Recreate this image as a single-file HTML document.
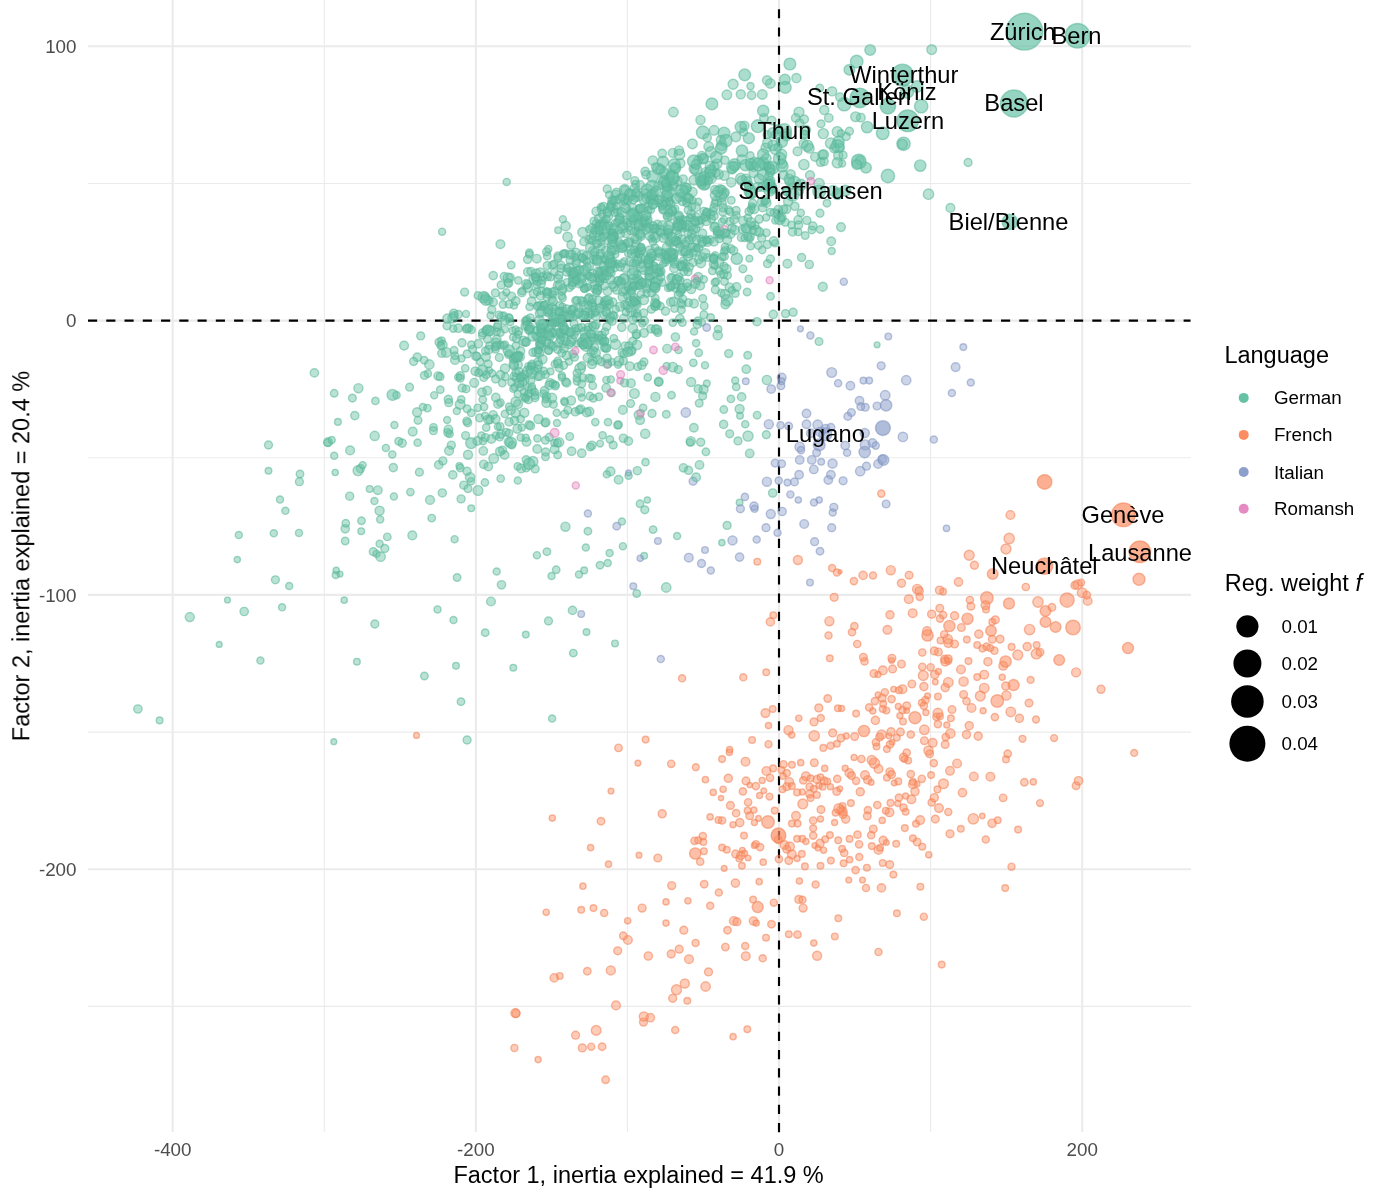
<!DOCTYPE html>
<html lang="en"><head><meta charset="utf-8"><title>Factor map</title>
<style>html,body{margin:0;padding:0;background:#fff}svg{display:block}text{font-family:"Liberation Sans",Arial,Helvetica,sans-serif}#txt{opacity:.999}.tk{font-size:18.8px;fill:#4D4D4D}.ti{font-size:23.5px;fill:#000}.lb{font-size:23.7px;fill:#000;text-anchor:middle}.ll{font-size:18.8px;fill:#000}.g,.f,.i,.r{fill-opacity:.45}#pts .m{fill-opacity:.56}#pts .b{fill-opacity:.7}.g{fill:#66C2A5;stroke:#5AB698}.f{fill:#FC8D62;stroke:#F08156}.i{fill:#8DA0CB;stroke:#8093C0}.r{fill:#E78AC3;stroke:#DA7DB6}#pts circle{stroke-opacity:.55;stroke-width:1.4}</style></head><body>
<svg width="1386" height="1200" viewBox="0 0 1386 1200">
<rect width="1386" height="1200" fill="#fff"/>
<g stroke="#EBEBEB" stroke-width="1.1" fill="none">
<line x1="324.3" y1="-21" x2="324.3" y2="1132"/>
<line x1="627.4" y1="-21" x2="627.4" y2="1132"/>
<line x1="930.6" y1="-21" x2="930.6" y2="1132"/>
<line x1="88" y1="183.5" x2="1191" y2="183.5"/>
<line x1="88" y1="457.8" x2="1191" y2="457.8"/>
<line x1="88" y1="732.1" x2="1191" y2="732.1"/>
<line x1="88" y1="1006.4" x2="1191" y2="1006.4"/>
</g>
<g stroke="#EBEBEB" stroke-width="2.1" fill="none">
<line x1="172.7" y1="-21" x2="172.7" y2="1132"/>
<line x1="475.9" y1="-21" x2="475.9" y2="1132"/>
<line x1="779.0" y1="-21" x2="779.0" y2="1132"/>
<line x1="1082.2" y1="-21" x2="1082.2" y2="1132"/>
<line x1="88" y1="46.3" x2="1191" y2="46.3"/>
<line x1="88" y1="320.6" x2="1191" y2="320.6"/>
<line x1="88" y1="594.9" x2="1191" y2="594.9"/>
<line x1="88" y1="869.2" x2="1191" y2="869.2"/>
</g>
<line x1="88" y1="320.6" x2="1190.5" y2="320.6" stroke="#000" stroke-width="2.15" stroke-dasharray="9.13 9.13"/>
<line x1="779.0" y1="1132.2" x2="779.0" y2="-31" stroke="#000" stroke-width="2.15" stroke-dasharray="9.13 9.13"/>
<g id="pts">
<circle class="g b" cx="1024.4" cy="31.7" r="18.40"/>
<circle class="g b" cx="1014.0" cy="103.5" r="13.57"/>
<circle class="g b" cx="1077.5" cy="35.8" r="12.32"/>
<circle class="f b" cx="1123.4" cy="514.8" r="11.86"/>
<circle class="g b" cx="907.7" cy="120.8" r="10.86"/>
<circle class="g b" cx="902.5" cy="75.0" r="10.86"/>
<circle class="f b" cx="1139.9" cy="551.8" r="10.76"/>
<circle class="g b" cx="859.8" cy="97.9" r="9.82"/>
<circle class="f b" cx="1044.6" cy="566.1" r="8.20"/>
<circle class="g" cx="698.3" cy="276.9" r="4.45"/>
<circle class="g" cx="576.4" cy="261.6" r="3.52"/>
<circle class="g" cx="644.0" cy="361.9" r="3.92"/>
<circle class="g" cx="667.8" cy="258.0" r="3.90"/>
<circle class="g" cx="424.2" cy="360.2" r="3.75"/>
<circle class="g" cx="717.4" cy="234.0" r="4.04"/>
<circle class="g" cx="637.7" cy="252.6" r="3.94"/>
<circle class="g" cx="717.0" cy="164.0" r="4.92"/>
<circle class="g" cx="669.1" cy="202.2" r="3.73"/>
<circle class="g" cx="655.4" cy="329.2" r="4.35"/>
<circle class="g" cx="476.9" cy="356.3" r="3.92"/>
<circle class="g" cx="605.5" cy="260.7" r="3.49"/>
<circle class="g" cx="831.2" cy="241.3" r="4.32"/>
<circle class="g" cx="521.7" cy="427.5" r="3.66"/>
<circle class="g m" cx="653.0" cy="199.2" r="5.74"/>
<circle class="g" cx="379.6" cy="543.8" r="3.55"/>
<circle class="g" cx="614.9" cy="223.0" r="3.56"/>
<circle class="g" cx="546.5" cy="274.6" r="3.97"/>
<circle class="f" cx="969.2" cy="725.7" r="4.08"/>
<circle class="f" cx="516.0" cy="1013.5" r="3.97"/>
<circle class="f" cx="743.3" cy="677.3" r="3.55"/>
<circle class="g" cx="483.7" cy="464.3" r="4.16"/>
<circle class="g" cx="589.1" cy="378.3" r="4.09"/>
<circle class="g" cx="622.9" cy="546.2" r="3.55"/>
<circle class="f" cx="746.0" cy="780.9" r="3.87"/>
<circle class="g" cx="691.7" cy="226.7" r="3.84"/>
<circle class="g" cx="677.1" cy="536.0" r="3.55"/>
<circle class="f" cx="836.9" cy="572.5" r="3.55"/>
<circle class="f" cx="797.5" cy="934.6" r="3.76"/>
<circle class="g" cx="646.8" cy="197.8" r="5.12"/>
<circle class="g" cx="694.0" cy="247.5" r="4.07"/>
<circle class="g" cx="547.6" cy="291.7" r="3.60"/>
<circle class="g" cx="606.3" cy="379.9" r="3.51"/>
<circle class="g" cx="583.2" cy="301.7" r="4.24"/>
<circle class="g" cx="655.0" cy="247.5" r="3.67"/>
<circle class="f" cx="950.0" cy="770.8" r="4.37"/>
<circle class="g" cx="758.4" cy="245.5" r="3.85"/>
<circle class="f" cx="813.8" cy="788.8" r="3.35"/>
<circle class="g" cx="516.5" cy="377.9" r="4.30"/>
<circle class="f" cx="871.2" cy="835.2" r="3.66"/>
<circle class="f" cx="778.9" cy="859.1" r="3.66"/>
<circle class="f" cx="749.7" cy="815.8" r="3.87"/>
<circle class="f" cx="902.5" cy="710.0" r="3.66"/>
<circle class="g" cx="607.2" cy="213.3" r="4.22"/>
<circle class="g" cx="705.5" cy="184.9" r="4.56"/>
<circle class="g" cx="613.1" cy="261.7" r="3.87"/>
<circle class="g" cx="527.0" cy="320.0" r="4.33"/>
<circle class="g" cx="839.8" cy="147.9" r="4.40"/>
<circle class="g m" cx="721.2" cy="196.3" r="5.77"/>
<circle class="g" cx="589.0" cy="229.2" r="3.55"/>
<circle class="f" cx="1029.0" cy="703.1" r="3.87"/>
<circle class="g" cx="590.1" cy="313.8" r="4.05"/>
<circle class="g" cx="521.1" cy="468.4" r="4.47"/>
<circle class="f" cx="842.6" cy="806.0" r="3.35"/>
<circle class="f" cx="740.8" cy="855.4" r="4.08"/>
<circle class="f" cx="987.9" cy="661.7" r="4.08"/>
<circle class="g" cx="672.1" cy="211.0" r="4.13"/>
<circle class="g" cx="497.4" cy="327.2" r="4.05"/>
<circle class="g" cx="678.5" cy="350.0" r="3.65"/>
<circle class="f" cx="1051.9" cy="607.4" r="3.83"/>
<circle class="g" cx="666.0" cy="256.1" r="4.18"/>
<circle class="f" cx="892.6" cy="668.9" r="3.87"/>
<circle class="g" cx="860.8" cy="117.7" r="4.37"/>
<circle class="g" cx="466.5" cy="329.1" r="4.05"/>
<circle class="g" cx="636.7" cy="304.6" r="4.42"/>
<circle class="g" cx="654.8" cy="287.9" r="5.15"/>
<circle class="g" cx="589.1" cy="266.3" r="4.38"/>
<circle class="g" cx="669.3" cy="177.7" r="4.64"/>
<circle class="g" cx="591.5" cy="378.5" r="3.80"/>
<circle class="g" cx="613.9" cy="239.7" r="3.72"/>
<circle class="g" cx="527.3" cy="325.2" r="4.55"/>
<circle class="g" cx="480.2" cy="361.7" r="3.76"/>
<circle class="i" cx="813.8" cy="469.4" r="4.25"/>
<circle class="g" cx="692.4" cy="192.0" r="4.74"/>
<circle class="g" cx="542.4" cy="276.8" r="4.07"/>
<circle class="i" cx="800.4" cy="328.8" r="2.92"/>
<circle class="g" cx="579.3" cy="410.0" r="4.03"/>
<circle class="g" cx="859.8" cy="160.4" r="4.37"/>
<circle class="f" cx="857.5" cy="834.7" r="3.66"/>
<circle class="g" cx="703.2" cy="181.1" r="4.84"/>
<circle class="g" cx="686.4" cy="197.4" r="4.43"/>
<circle class="f" cx="813.2" cy="835.6" r="3.66"/>
<circle class="g" cx="591.3" cy="314.6" r="3.51"/>
<circle class="f" cx="978.8" cy="634.1" r="4.08"/>
<circle class="i" cx="865.3" cy="444.9" r="4.98"/>
<circle class="g" cx="721.1" cy="235.1" r="3.94"/>
<circle class="g" cx="709.6" cy="172.7" r="5.29"/>
<circle class="g" cx="662.3" cy="206.4" r="3.87"/>
<circle class="g" cx="559.7" cy="323.4" r="3.65"/>
<circle class="g" cx="628.2" cy="198.7" r="4.22"/>
<circle class="g" cx="731.8" cy="169.8" r="4.18"/>
<circle class="g" cx="520.4" cy="387.2" r="3.69"/>
<circle class="g m" cx="866.0" cy="167.7" r="5.37"/>
<circle class="g" cx="553.1" cy="317.6" r="4.18"/>
<circle class="g" cx="731.3" cy="200.3" r="3.82"/>
<circle class="g" cx="669.1" cy="187.4" r="4.03"/>
<circle class="g" cx="620.2" cy="306.6" r="4.48"/>
<circle class="f" cx="774.7" cy="810.6" r="3.35"/>
<circle class="g" cx="709.9" cy="239.8" r="4.00"/>
<circle class="g" cx="628.4" cy="227.3" r="4.07"/>
<circle class="g m" cx="768.5" cy="185.3" r="6.12"/>
<circle class="f" cx="896.9" cy="913.3" r="3.34"/>
<circle class="r" cx="620.2" cy="380.8" r="3.34"/>
<circle class="g" cx="448.8" cy="402.7" r="3.95"/>
<circle class="g" cx="678.2" cy="221.0" r="4.30"/>
<circle class="g" cx="714.0" cy="207.4" r="4.05"/>
<circle class="g" cx="655.9" cy="228.4" r="4.59"/>
<circle class="f" cx="735.6" cy="853.9" r="3.87"/>
<circle class="g" cx="618.6" cy="479.8" r="4.29"/>
<circle class="f" cx="771.5" cy="924.2" r="3.76"/>
<circle class="g" cx="665.7" cy="196.3" r="5.05"/>
<circle class="g" cx="750.2" cy="165.9" r="4.30"/>
<circle class="g" cx="438.7" cy="464.9" r="4.20"/>
<circle class="g" cx="684.9" cy="189.4" r="4.30"/>
<circle class="f" cx="840.0" cy="571.8" r="1.99"/>
<circle class="g" cx="746.3" cy="369.2" r="4.19"/>
<circle class="g" cx="657.2" cy="304.3" r="3.86"/>
<circle class="g" cx="589.0" cy="297.5" r="3.97"/>
<circle class="f" cx="727.5" cy="930.2" r="3.76"/>
<circle class="g" cx="512.5" cy="330.5" r="3.54"/>
<circle class="g m" cx="838.5" cy="141.9" r="5.67"/>
<circle class="g" cx="703.7" cy="158.6" r="4.71"/>
<circle class="g" cx="504.9" cy="344.7" r="3.65"/>
<circle class="g" cx="374.7" cy="435.9" r="4.60"/>
<circle class="g" cx="529.4" cy="252.9" r="3.86"/>
<circle class="g" cx="654.4" cy="266.6" r="3.97"/>
<circle class="g" cx="546.4" cy="396.5" r="4.18"/>
<circle class="g" cx="513.8" cy="358.8" r="3.96"/>
<circle class="g" cx="219.2" cy="644.4" r="2.92"/>
<circle class="g" cx="506.2" cy="432.3" r="3.87"/>
<circle class="g" cx="762.7" cy="207.7" r="4.09"/>
<circle class="g" cx="533.7" cy="293.6" r="4.31"/>
<circle class="g" cx="564.3" cy="401.1" r="3.65"/>
<circle class="g" cx="561.1" cy="268.3" r="4.10"/>
<circle class="g" cx="624.3" cy="261.3" r="3.57"/>
<circle class="g" cx="650.9" cy="328.9" r="4.17"/>
<circle class="g" cx="638.8" cy="414.8" r="4.61"/>
<circle class="g" cx="328.1" cy="442.1" r="4.37"/>
<circle class="f" cx="797.9" cy="560.0" r="4.53"/>
<circle class="f" cx="816.9" cy="779.4" r="3.87"/>
<circle class="g" cx="636.6" cy="334.0" r="4.44"/>
<circle class="g" cx="592.8" cy="272.9" r="3.52"/>
<circle class="g" cx="591.1" cy="238.2" r="4.22"/>
<circle class="f" cx="905.6" cy="811.8" r="3.35"/>
<circle class="g" cx="404.1" cy="345.6" r="4.39"/>
<circle class="g" cx="600.0" cy="565.2" r="3.76"/>
<circle class="g m" cx="903.5" cy="143.8" r="6.69"/>
<circle class="i" cx="859.5" cy="400.8" r="4.25"/>
<circle class="f" cx="903.0" cy="721.5" r="3.35"/>
<circle class="g" cx="671.9" cy="254.2" r="3.94"/>
<circle class="f" cx="944.7" cy="659.3" r="4.08"/>
<circle class="g" cx="666.7" cy="366.1" r="3.62"/>
<circle class="i" cx="814.0" cy="502.5" r="3.55"/>
<circle class="g" cx="409.6" cy="387.2" r="3.92"/>
<circle class="g" cx="581.7" cy="453.2" r="4.22"/>
<circle class="f" cx="841.6" cy="708.4" r="3.03"/>
<circle class="f" cx="838.2" cy="840.3" r="3.35"/>
<circle class="f" cx="830.9" cy="860.6" r="3.35"/>
<circle class="g" cx="636.3" cy="335.3" r="3.55"/>
<circle class="f" cx="980.3" cy="696.0" r="4.95"/>
<circle class="g" cx="715.2" cy="255.2" r="3.57"/>
<circle class="f" cx="867.6" cy="779.8" r="4.08"/>
<circle class="g" cx="582.4" cy="257.6" r="3.95"/>
<circle class="g" cx="514.0" cy="376.4" r="3.86"/>
<circle class="g" cx="500.2" cy="344.8" r="3.73"/>
<circle class="g" cx="694.0" cy="303.6" r="4.35"/>
<circle class="g m" cx="622.4" cy="227.5" r="5.54"/>
<circle class="g" cx="823.3" cy="133.6" r="5.01"/>
<circle class="g" cx="624.2" cy="201.4" r="3.92"/>
<circle class="g" cx="718.1" cy="329.2" r="3.71"/>
<circle class="g" cx="552.3" cy="332.8" r="4.60"/>
<circle class="g" cx="582.4" cy="255.2" r="5.29"/>
<circle class="i" cx="877.0" cy="406.0" r="3.86"/>
<circle class="f m" cx="992.7" cy="574.0" r="5.34"/>
<circle class="g" cx="699.3" cy="223.7" r="4.35"/>
<circle class="g" cx="672.8" cy="322.7" r="3.66"/>
<circle class="g" cx="703.7" cy="279.4" r="3.67"/>
<circle class="g" cx="554.8" cy="322.3" r="4.40"/>
<circle class="r" cx="695.2" cy="278.8" r="3.76"/>
<circle class="f" cx="948.3" cy="643.1" r="4.37"/>
<circle class="g" cx="507.9" cy="282.7" r="3.87"/>
<circle class="g" cx="742.2" cy="229.4" r="3.97"/>
<circle class="g" cx="653.5" cy="266.1" r="4.26"/>
<circle class="g" cx="622.0" cy="352.6" r="3.90"/>
<circle class="f" cx="762.7" cy="958.3" r="3.55"/>
<circle class="g" cx="508.8" cy="317.6" r="3.98"/>
<circle class="g" cx="615.0" cy="250.0" r="4.32"/>
<circle class="f" cx="1030.6" cy="679.9" r="3.45"/>
<circle class="g" cx="501.2" cy="285.0" r="4.01"/>
<circle class="g" cx="633.3" cy="221.1" r="3.74"/>
<circle class="g" cx="433.5" cy="427.4" r="3.79"/>
<circle class="g" cx="705.9" cy="239.6" r="3.69"/>
<circle class="f" cx="816.9" cy="795.0" r="3.35"/>
<circle class="f" cx="582.3" cy="1047.9" r="3.97"/>
<circle class="f" cx="805.9" cy="776.2" r="4.37"/>
<circle class="g" cx="719.2" cy="271.2" r="3.75"/>
<circle class="g m" cx="740.8" cy="127.1" r="5.64"/>
<circle class="g" cx="628.1" cy="253.4" r="3.54"/>
<circle class="g" cx="591.9" cy="445.3" r="4.21"/>
<circle class="g" cx="589.5" cy="411.6" r="4.32"/>
<circle class="g" cx="636.8" cy="300.4" r="4.00"/>
<circle class="g" cx="441.8" cy="353.3" r="4.06"/>
<circle class="g" cx="681.0" cy="288.5" r="4.22"/>
<circle class="g" cx="535.0" cy="395.4" r="3.89"/>
<circle class="f" cx="866.0" cy="887.9" r="3.55"/>
<circle class="g" cx="670.2" cy="216.6" r="3.94"/>
<circle class="f" cx="754.4" cy="845.5" r="3.03"/>
<circle class="g" cx="721.8" cy="145.4" r="5.18"/>
<circle class="g" cx="540.0" cy="343.2" r="4.30"/>
<circle class="g" cx="665.4" cy="262.4" r="3.60"/>
<circle class="g" cx="699.5" cy="464.9" r="4.26"/>
<circle class="g m" cx="704.0" cy="184.6" r="5.56"/>
<circle class="g" cx="704.0" cy="211.5" r="4.13"/>
<circle class="g" cx="536.9" cy="555.2" r="3.55"/>
<circle class="g" cx="644.6" cy="221.5" r="4.76"/>
<circle class="g" cx="502.5" cy="450.1" r="4.00"/>
<circle class="g" cx="633.8" cy="297.8" r="4.17"/>
<circle class="f" cx="841.0" cy="810.2" r="4.37"/>
<circle class="g" cx="488.2" cy="419.6" r="4.45"/>
<circle class="g" cx="607.5" cy="291.2" r="4.30"/>
<circle class="g" cx="333.8" cy="741.7" r="2.92"/>
<circle class="g" cx="585.8" cy="547.5" r="3.55"/>
<circle class="f" cx="882.9" cy="670.4" r="4.37"/>
<circle class="g" cx="592.5" cy="305.9" r="4.16"/>
<circle class="g" cx="557.7" cy="349.6" r="3.92"/>
<circle class="f" cx="591.2" cy="1046.7" r="3.55"/>
<circle class="g" cx="658.6" cy="272.8" r="3.87"/>
<circle class="f" cx="514.4" cy="1047.9" r="3.55"/>
<circle class="g" cx="716.0" cy="173.1" r="3.89"/>
<circle class="f" cx="901.5" cy="664.0" r="3.87"/>
<circle class="g" cx="552.5" cy="307.3" r="3.83"/>
<circle class="g" cx="716.8" cy="230.3" r="3.76"/>
<circle class="f" cx="786.7" cy="849.2" r="3.87"/>
<circle class="g" cx="529.8" cy="330.0" r="4.66"/>
<circle class="i" cx="780.9" cy="385.8" r="3.86"/>
<circle class="g" cx="804.7" cy="134.4" r="4.09"/>
<circle class="g" cx="634.9" cy="313.7" r="3.66"/>
<circle class="g" cx="671.2" cy="203.5" r="3.78"/>
<circle class="g" cx="581.7" cy="342.6" r="4.46"/>
<circle class="g" cx="834.5" cy="148.1" r="4.77"/>
<circle class="i" cx="955.6" cy="367.1" r="4.37"/>
<circle class="g" cx="468.9" cy="328.2" r="3.93"/>
<circle class="g" cx="588.1" cy="344.7" r="4.18"/>
<circle class="g" cx="533.7" cy="279.3" r="4.72"/>
<circle class="g" cx="518.2" cy="364.9" r="4.18"/>
<circle class="g" cx="653.8" cy="280.3" r="3.62"/>
<circle class="g" cx="273.8" cy="533.3" r="3.55"/>
<circle class="f" cx="637.9" cy="763.1" r="2.92"/>
<circle class="g" cx="509.1" cy="433.1" r="3.69"/>
<circle class="g" cx="447.1" cy="420.0" r="3.46"/>
<circle class="f" cx="883.2" cy="840.4" r="4.08"/>
<circle class="g" cx="786.7" cy="133.7" r="4.89"/>
<circle class="g" cx="592.5" cy="325.7" r="3.99"/>
<circle class="g" cx="774.1" cy="212.8" r="3.99"/>
<circle class="f" cx="755.9" cy="786.1" r="3.66"/>
<circle class="g" cx="514.0" cy="305.4" r="3.55"/>
<circle class="i" cx="810.0" cy="582.5" r="3.34"/>
<circle class="g" cx="510.0" cy="321.8" r="3.97"/>
<circle class="f" cx="936.4" cy="716.8" r="3.66"/>
<circle class="g" cx="598.9" cy="274.4" r="3.51"/>
<circle class="g" cx="565.7" cy="381.9" r="4.02"/>
<circle class="g" cx="798.5" cy="225.1" r="4.17"/>
<circle class="i" cx="768.8" cy="424.2" r="4.57"/>
<circle class="f" cx="898.9" cy="797.7" r="3.66"/>
<circle class="f" cx="941.7" cy="964.6" r="3.34"/>
<circle class="f" cx="925.4" cy="700.1" r="3.66"/>
<circle class="g" cx="563.8" cy="254.0" r="4.05"/>
<circle class="g" cx="581.8" cy="397.6" r="3.53"/>
<circle class="g" cx="559.8" cy="333.1" r="4.05"/>
<circle class="g" cx="624.4" cy="278.6" r="5.15"/>
<circle class="f" cx="671.2" cy="954.0" r="3.97"/>
<circle class="g m" cx="845.2" cy="190.6" r="5.37"/>
<circle class="g" cx="539.4" cy="320.4" r="4.93"/>
<circle class="g" cx="546.6" cy="402.6" r="4.78"/>
<circle class="g" cx="515.9" cy="372.7" r="3.94"/>
<circle class="g" cx="535.6" cy="336.0" r="3.70"/>
<circle class="g" cx="832.1" cy="91.3" r="4.57"/>
<circle class="f" cx="997.7" cy="820.2" r="3.34"/>
<circle class="g" cx="742.2" cy="180.7" r="5.10"/>
<circle class="g" cx="553.2" cy="346.5" r="4.25"/>
<circle class="g" cx="385.9" cy="447.9" r="3.55"/>
<circle class="g" cx="580.2" cy="269.4" r="3.96"/>
<circle class="i" cx="885.2" cy="395.3" r="4.78"/>
<circle class="g" cx="646.5" cy="282.9" r="4.44"/>
<circle class="g" cx="576.1" cy="314.1" r="4.74"/>
<circle class="g" cx="674.3" cy="261.2" r="4.56"/>
<circle class="f" cx="977.2" cy="645.0" r="3.35"/>
<circle class="g" cx="531.0" cy="366.5" r="3.63"/>
<circle class="f" cx="763.8" cy="790.8" r="2.83"/>
<circle class="g" cx="604.8" cy="278.5" r="3.79"/>
<circle class="g" cx="785.2" cy="222.3" r="3.89"/>
<circle class="g m" cx="702.8" cy="158.7" r="5.33"/>
<circle class="g" cx="741.3" cy="237.6" r="3.93"/>
<circle class="g" cx="503.0" cy="304.5" r="3.80"/>
<circle class="g" cx="580.1" cy="368.6" r="5.28"/>
<circle class="g" cx="842.1" cy="163.5" r="3.55"/>
<circle class="g" cx="553.4" cy="404.4" r="3.85"/>
<circle class="f" cx="728.3" cy="778.3" r="4.08"/>
<circle class="g" cx="614.0" cy="237.6" r="3.87"/>
<circle class="g" cx="592.7" cy="250.8" r="4.17"/>
<circle class="g" cx="855.6" cy="116.7" r="4.87"/>
<circle class="g" cx="595.7" cy="316.2" r="4.32"/>
<circle class="g" cx="631.8" cy="350.4" r="4.11"/>
<circle class="g" cx="653.2" cy="199.5" r="4.50"/>
<circle class="g" cx="650.6" cy="209.8" r="3.91"/>
<circle class="g m" cx="757.8" cy="126.2" r="6.40"/>
<circle class="g" cx="659.7" cy="272.0" r="3.91"/>
<circle class="f" cx="845.2" cy="768.3" r="3.03"/>
<circle class="r" cx="769.6" cy="280.2" r="3.55"/>
<circle class="g" cx="268.5" cy="445.0" r="3.97"/>
<circle class="g" cx="569.0" cy="344.6" r="4.04"/>
<circle class="i" cx="806.5" cy="424.2" r="4.25"/>
<circle class="g" cx="506.3" cy="292.2" r="3.50"/>
<circle class="g" cx="770.4" cy="83.5" r="4.78"/>
<circle class="f m" cx="997.3" cy="701.0" r="6.30"/>
<circle class="g" cx="672.8" cy="152.9" r="4.51"/>
<circle class="f" cx="886.4" cy="842.5" r="2.83"/>
<circle class="g" cx="607.3" cy="225.9" r="4.18"/>
<circle class="g" cx="716.8" cy="201.0" r="4.84"/>
<circle class="g" cx="600.0" cy="230.7" r="4.06"/>
<circle class="g" cx="785.5" cy="313.6" r="3.99"/>
<circle class="g" cx="771.7" cy="120.5" r="4.25"/>
<circle class="g" cx="520.5" cy="418.9" r="3.78"/>
<circle class="g" cx="537.8" cy="337.5" r="4.39"/>
<circle class="g" cx="458.2" cy="328.2" r="4.18"/>
<circle class="f" cx="947.8" cy="639.0" r="4.62"/>
<circle class="g" cx="524.0" cy="391.7" r="3.53"/>
<circle class="g" cx="632.3" cy="208.1" r="4.67"/>
<circle class="f" cx="992.3" cy="621.9" r="3.35"/>
<circle class="g" cx="691.8" cy="206.9" r="3.81"/>
<circle class="g" cx="711.2" cy="178.3" r="5.06"/>
<circle class="g" cx="775.3" cy="220.6" r="3.57"/>
<circle class="g" cx="637.1" cy="273.9" r="3.42"/>
<circle class="f" cx="871.2" cy="782.4" r="2.83"/>
<circle class="g" cx="529.6" cy="306.8" r="3.72"/>
<circle class="f" cx="753.5" cy="921.0" r="4.17"/>
<circle class="g" cx="518.4" cy="356.4" r="3.70"/>
<circle class="f" cx="906.7" cy="752.7" r="3.66"/>
<circle class="g" cx="455.0" cy="359.9" r="4.46"/>
<circle class="f" cx="843.6" cy="863.3" r="3.35"/>
<circle class="g" cx="782.4" cy="163.8" r="4.49"/>
<circle class="g" cx="548.3" cy="249.0" r="3.55"/>
<circle class="g" cx="485.5" cy="330.7" r="3.66"/>
<circle class="g" cx="764.1" cy="166.0" r="4.39"/>
<circle class="g" cx="244.2" cy="611.5" r="4.17"/>
<circle class="g" cx="630.6" cy="250.1" r="4.07"/>
<circle class="g" cx="819.1" cy="183.6" r="5.19"/>
<circle class="g" cx="698.7" cy="352.8" r="3.77"/>
<circle class="f" cx="752.1" cy="740.0" r="3.34"/>
<circle class="g" cx="680.1" cy="292.4" r="4.02"/>
<circle class="g" cx="508.7" cy="441.8" r="4.46"/>
<circle class="g" cx="335.2" cy="472.5" r="3.13"/>
<circle class="g" cx="722.0" cy="189.9" r="4.29"/>
<circle class="i" cx="587.9" cy="513.5" r="3.55"/>
<circle class="g" cx="559.2" cy="368.0" r="3.80"/>
<circle class="f" cx="788.8" cy="860.6" r="3.87"/>
<circle class="g" cx="532.5" cy="336.5" r="4.50"/>
<circle class="f" cx="829.4" cy="621.2" r="4.53"/>
<circle class="g" cx="724.0" cy="266.5" r="4.13"/>
<circle class="g m" cx="772.4" cy="167.8" r="6.40"/>
<circle class="g" cx="629.9" cy="241.8" r="4.00"/>
<circle class="g" cx="744.4" cy="125.7" r="4.57"/>
<circle class="i" cx="814.6" cy="541.7" r="3.97"/>
<circle class="g" cx="563.7" cy="365.3" r="3.91"/>
<circle class="g" cx="631.2" cy="222.1" r="4.58"/>
<circle class="i" cx="798.3" cy="500.0" r="3.13"/>
<circle class="g" cx="626.0" cy="208.3" r="4.67"/>
<circle class="f m" cx="1059.2" cy="660.0" r="5.39"/>
<circle class="g" cx="684.4" cy="263.6" r="3.85"/>
<circle class="g" cx="442.3" cy="492.9" r="4.06"/>
<circle class="g m" cx="921.2" cy="106.2" r="6.69"/>
<circle class="f" cx="817.1" cy="955.8" r="4.53"/>
<circle class="g" cx="593.3" cy="338.2" r="4.66"/>
<circle class="f" cx="923.9" cy="686.6" r="4.08"/>
<circle class="g" cx="612.9" cy="302.0" r="3.97"/>
<circle class="g" cx="682.3" cy="304.4" r="3.77"/>
<circle class="g m" cx="837.7" cy="146.1" r="6.40"/>
<circle class="f" cx="757.3" cy="561.7" r="3.34"/>
<circle class="g" cx="625.8" cy="243.2" r="3.59"/>
<circle class="g" cx="424.4" cy="676.0" r="3.76"/>
<circle class="f" cx="937.9" cy="696.5" r="3.35"/>
<circle class="f" cx="616.0" cy="1005.4" r="4.37"/>
<circle class="g" cx="811.9" cy="229.9" r="3.79"/>
<circle class="i" cx="832.7" cy="512.5" r="3.55"/>
<circle class="g" cx="804.4" cy="134.6" r="3.92"/>
<circle class="g" cx="599.9" cy="278.8" r="3.96"/>
<circle class="f" cx="911.4" cy="799.3" r="4.37"/>
<circle class="g" cx="640.1" cy="185.0" r="4.37"/>
<circle class="g" cx="504.6" cy="455.0" r="4.30"/>
<circle class="g" cx="647.3" cy="500.0" r="3.13"/>
<circle class="g" cx="632.3" cy="278.7" r="4.30"/>
<circle class="g" cx="822.4" cy="154.8" r="4.66"/>
<circle class="f" cx="842.9" cy="811.7" r="4.37"/>
<circle class="g" cx="550.1" cy="336.6" r="4.26"/>
<circle class="f" cx="825.2" cy="839.3" r="3.35"/>
<circle class="g" cx="453.7" cy="313.4" r="4.28"/>
<circle class="g" cx="670.5" cy="285.8" r="4.05"/>
<circle class="g" cx="237.3" cy="559.6" r="3.13"/>
<circle class="i b" cx="882.9" cy="428.1" r="7.45"/>
<circle class="f" cx="971.5" cy="708.0" r="4.37"/>
<circle class="g m" cx="734.6" cy="164.7" r="6.02"/>
<circle class="g" cx="644.5" cy="223.3" r="3.89"/>
<circle class="g" cx="584.2" cy="337.1" r="3.63"/>
<circle class="f" cx="836.9" cy="743.8" r="3.34"/>
<circle class="f" cx="416.5" cy="735.4" r="2.92"/>
<circle class="g" cx="557.0" cy="423.0" r="3.53"/>
<circle class="g" cx="552.9" cy="332.7" r="3.89"/>
<circle class="f" cx="992.3" cy="639.3" r="3.87"/>
<circle class="g" cx="581.9" cy="341.4" r="4.29"/>
<circle class="g" cx="531.7" cy="301.4" r="4.37"/>
<circle class="g" cx="547.5" cy="276.6" r="4.05"/>
<circle class="g" cx="727.1" cy="239.7" r="4.49"/>
<circle class="g" cx="418.0" cy="420.3" r="3.89"/>
<circle class="g" cx="465.6" cy="435.6" r="3.96"/>
<circle class="f" cx="873.3" cy="829.0" r="3.87"/>
<circle class="f" cx="827.7" cy="698.5" r="3.76"/>
<circle class="g" cx="514.8" cy="387.1" r="3.66"/>
<circle class="g" cx="516.0" cy="345.8" r="3.82"/>
<circle class="g" cx="535.6" cy="277.2" r="4.30"/>
<circle class="g" cx="640.8" cy="294.3" r="3.75"/>
<circle class="g" cx="686.7" cy="201.5" r="3.60"/>
<circle class="f" cx="904.6" cy="759.0" r="3.35"/>
<circle class="g m" cx="794.1" cy="182.6" r="6.40"/>
<circle class="f" cx="903.5" cy="757.4" r="4.08"/>
<circle class="g" cx="610.5" cy="256.2" r="3.91"/>
<circle class="g" cx="578.9" cy="308.1" r="3.84"/>
<circle class="g" cx="610.8" cy="379.4" r="3.56"/>
<circle class="g" cx="615.3" cy="254.3" r="3.61"/>
<circle class="g" cx="630.9" cy="351.4" r="4.23"/>
<circle class="g" cx="767.4" cy="244.4" r="4.07"/>
<circle class="g" cx="720.3" cy="189.0" r="4.31"/>
<circle class="g" cx="638.9" cy="227.3" r="4.12"/>
<circle class="g m" cx="844.2" cy="104.2" r="6.69"/>
<circle class="f" cx="921.8" cy="702.7" r="3.35"/>
<circle class="g" cx="282.1" cy="607.3" r="3.55"/>
<circle class="i" cx="843.1" cy="480.8" r="3.97"/>
<circle class="g" cx="625.2" cy="346.0" r="4.10"/>
<circle class="f" cx="1018.1" cy="829.6" r="3.34"/>
<circle class="g" cx="460.2" cy="404.4" r="4.89"/>
<circle class="g" cx="638.5" cy="217.5" r="4.69"/>
<circle class="g" cx="703.9" cy="314.7" r="3.88"/>
<circle class="g" cx="610.6" cy="234.5" r="3.89"/>
<circle class="g" cx="517.7" cy="466.3" r="3.69"/>
<circle class="g" cx="592.4" cy="337.4" r="3.93"/>
<circle class="g" cx="727.1" cy="525.4" r="3.97"/>
<circle class="g" cx="619.9" cy="216.6" r="3.62"/>
<circle class="f" cx="721.0" cy="798.1" r="2.62"/>
<circle class="g" cx="740.8" cy="94.3" r="4.57"/>
<circle class="g" cx="552.1" cy="292.2" r="4.08"/>
<circle class="g m" cx="724.0" cy="133.1" r="5.96"/>
<circle class="i" cx="781.6" cy="463.8" r="3.86"/>
<circle class="f" cx="762.2" cy="780.4" r="3.03"/>
<circle class="f" cx="902.5" cy="689.2" r="4.37"/>
<circle class="f" cx="873.0" cy="575.4" r="3.55"/>
<circle class="f" cx="986.6" cy="646.6" r="3.66"/>
<circle class="f" cx="1000.1" cy="639.1" r="3.87"/>
<circle class="g" cx="750.4" cy="155.5" r="3.71"/>
<circle class="g" cx="280.0" cy="499.6" r="3.55"/>
<circle class="g" cx="592.7" cy="334.2" r="3.56"/>
<circle class="g" cx="625.1" cy="305.0" r="4.39"/>
<circle class="g" cx="735.3" cy="293.5" r="3.81"/>
<circle class="g" cx="554.0" cy="264.1" r="3.85"/>
<circle class="f" cx="893.6" cy="689.2" r="2.83"/>
<circle class="g" cx="340.0" cy="574.0" r="2.92"/>
<circle class="g" cx="628.9" cy="346.0" r="4.06"/>
<circle class="g" cx="729.7" cy="433.8" r="3.95"/>
<circle class="g" cx="300.0" cy="474.0" r="3.76"/>
<circle class="f" cx="878.5" cy="850.0" r="4.37"/>
<circle class="g" cx="632.2" cy="288.4" r="4.51"/>
<circle class="g" cx="783.7" cy="174.9" r="4.34"/>
<circle class="g" cx="529.1" cy="424.8" r="4.06"/>
<circle class="g" cx="672.8" cy="367.1" r="4.74"/>
<circle class="g" cx="739.6" cy="409.0" r="4.51"/>
<circle class="f" cx="1002.2" cy="677.3" r="3.03"/>
<circle class="f m" cx="1013.6" cy="685.1" r="5.53"/>
<circle class="f m" cx="915.0" cy="717.7" r="6.10"/>
<circle class="f" cx="657.8" cy="858.0" r="3.87"/>
<circle class="g" cx="649.6" cy="200.1" r="3.91"/>
<circle class="f" cx="1074.8" cy="585.4" r="3.83"/>
<circle class="g" cx="686.7" cy="188.0" r="4.63"/>
<circle class="f" cx="890.5" cy="802.9" r="3.35"/>
<circle class="g" cx="838.3" cy="155.5" r="4.60"/>
<circle class="f" cx="824.2" cy="780.9" r="3.87"/>
<circle class="g" cx="623.4" cy="438.3" r="4.16"/>
<circle class="g" cx="635.3" cy="198.3" r="3.58"/>
<circle class="g" cx="528.3" cy="366.3" r="3.53"/>
<circle class="g" cx="488.6" cy="300.4" r="4.43"/>
<circle class="g" cx="511.9" cy="445.2" r="3.67"/>
<circle class="g" cx="581.8" cy="327.5" r="4.01"/>
<circle class="f" cx="1087.7" cy="601.0" r="4.37"/>
<circle class="g" cx="675.7" cy="288.1" r="4.13"/>
<circle class="g" cx="562.0" cy="290.9" r="4.29"/>
<circle class="g m" cx="819.2" cy="191.6" r="6.40"/>
<circle class="f" cx="912.9" cy="781.9" r="3.35"/>
<circle class="g" cx="551.9" cy="398.1" r="4.79"/>
<circle class="g" cx="662.2" cy="153.5" r="4.22"/>
<circle class="g" cx="602.8" cy="342.1" r="3.60"/>
<circle class="g" cx="680.6" cy="219.7" r="3.84"/>
<circle class="f" cx="897.8" cy="803.4" r="3.03"/>
<circle class="g" cx="612.0" cy="233.0" r="3.89"/>
<circle class="f" cx="773.1" cy="768.4" r="3.35"/>
<circle class="g" cx="548.6" cy="343.7" r="4.98"/>
<circle class="g" cx="602.3" cy="214.3" r="3.80"/>
<circle class="g" cx="670.5" cy="243.3" r="3.66"/>
<circle class="i" cx="799.7" cy="446.9" r="4.78"/>
<circle class="f" cx="803.3" cy="780.4" r="3.66"/>
<circle class="g" cx="483.0" cy="441.1" r="3.66"/>
<circle class="g" cx="658.5" cy="200.2" r="4.42"/>
<circle class="g" cx="616.5" cy="192.7" r="4.58"/>
<circle class="g" cx="678.3" cy="369.6" r="3.93"/>
<circle class="f" cx="718.4" cy="820.0" r="3.35"/>
<circle class="g" cx="587.9" cy="531.2" r="3.76"/>
<circle class="g" cx="492.1" cy="373.4" r="3.61"/>
<circle class="g" cx="571.9" cy="339.6" r="4.58"/>
<circle class="g" cx="663.8" cy="209.3" r="4.85"/>
<circle class="g" cx="599.6" cy="281.3" r="3.92"/>
<circle class="g" cx="773.3" cy="314.4" r="4.12"/>
<circle class="g" cx="238.8" cy="535.0" r="3.55"/>
<circle class="g" cx="549.3" cy="437.2" r="3.96"/>
<circle class="g" cx="458.3" cy="314.4" r="3.97"/>
<circle class="f" cx="748.1" cy="802.3" r="3.66"/>
<circle class="g" cx="537.4" cy="306.5" r="4.01"/>
<circle class="g" cx="577.0" cy="381.3" r="3.66"/>
<circle class="g" cx="588.7" cy="275.6" r="3.60"/>
<circle class="i" cx="820.0" cy="551.2" r="3.76"/>
<circle class="g" cx="612.2" cy="233.3" r="3.63"/>
<circle class="g" cx="731.3" cy="182.3" r="4.66"/>
<circle class="f" cx="1006.4" cy="695.5" r="4.62"/>
<circle class="i" cx="766.9" cy="481.7" r="4.57"/>
<circle class="f" cx="963.6" cy="681.5" r="4.62"/>
<circle class="g" cx="562.0" cy="377.4" r="3.64"/>
<circle class="g" cx="692.0" cy="234.4" r="4.40"/>
<circle class="g" cx="314.4" cy="372.9" r="4.17"/>
<circle class="f" cx="845.7" cy="819.1" r="4.08"/>
<circle class="g" cx="504.1" cy="276.4" r="3.87"/>
<circle class="g" cx="611.5" cy="392.9" r="3.72"/>
<circle class="f" cx="1010.8" cy="711.9" r="4.79"/>
<circle class="g" cx="716.2" cy="281.6" r="3.64"/>
<circle class="g" cx="545.6" cy="374.6" r="3.84"/>
<circle class="g" cx="558.1" cy="278.8" r="4.23"/>
<circle class="g" cx="540.4" cy="304.8" r="3.66"/>
<circle class="g" cx="605.5" cy="271.4" r="3.70"/>
<circle class="i" cx="745.8" cy="381.3" r="3.34"/>
<circle class="g" cx="697.0" cy="281.1" r="3.68"/>
<circle class="g" cx="599.8" cy="225.0" r="4.43"/>
<circle class="i" cx="693.1" cy="481.2" r="3.97"/>
<circle class="i" cx="869.2" cy="380.6" r="3.34"/>
<circle class="g" cx="655.3" cy="306.0" r="4.44"/>
<circle class="g" cx="634.7" cy="238.9" r="3.96"/>
<circle class="g" cx="514.0" cy="365.8" r="4.29"/>
<circle class="g" cx="587.1" cy="275.4" r="3.79"/>
<circle class="g m" cx="635.9" cy="282.6" r="5.97"/>
<circle class="g" cx="685.4" cy="244.4" r="3.91"/>
<circle class="f" cx="954.6" cy="644.0" r="3.87"/>
<circle class="f" cx="1003.1" cy="797.9" r="3.76"/>
<circle class="g" cx="596.3" cy="260.3" r="3.76"/>
<circle class="g" cx="762.6" cy="186.6" r="4.66"/>
<circle class="f" cx="893.4" cy="874.6" r="3.35"/>
<circle class="g" cx="751.6" cy="225.7" r="3.86"/>
<circle class="g m" cx="702.4" cy="180.0" r="5.38"/>
<circle class="f" cx="789.3" cy="782.0" r="4.37"/>
<circle class="g" cx="751.7" cy="206.2" r="3.37"/>
<circle class="g" cx="556.2" cy="569.8" r="3.76"/>
<circle class="f" cx="797.1" cy="858.5" r="3.03"/>
<circle class="f" cx="722.1" cy="847.6" r="3.35"/>
<circle class="f" cx="940.0" cy="618.6" r="3.66"/>
<circle class="g m" cx="769.3" cy="183.4" r="5.42"/>
<circle class="g" cx="751.1" cy="209.2" r="3.86"/>
<circle class="g" cx="628.5" cy="441.1" r="4.14"/>
<circle class="f" cx="704.2" cy="884.2" r="3.76"/>
<circle class="g m" cx="907.1" cy="91.7" r="6.48"/>
<circle class="g" cx="841.0" cy="227.1" r="4.37"/>
<circle class="g" cx="705.0" cy="365.2" r="3.54"/>
<circle class="i" cx="701.5" cy="563.5" r="3.97"/>
<circle class="g" cx="567.5" cy="236.9" r="4.70"/>
<circle class="g" cx="649.0" cy="277.0" r="3.76"/>
<circle class="f" cx="917.3" cy="589.2" r="4.79"/>
<circle class="g" cx="714.6" cy="203.6" r="3.56"/>
<circle class="f" cx="855.6" cy="870.1" r="3.66"/>
<circle class="r" cx="607.7" cy="364.2" r="3.55"/>
<circle class="g" cx="643.4" cy="208.5" r="4.31"/>
<circle class="g" cx="599.5" cy="281.8" r="4.20"/>
<circle class="g" cx="537.9" cy="368.9" r="3.89"/>
<circle class="g" cx="334.2" cy="455.8" r="3.55"/>
<circle class="f" cx="822.6" cy="786.7" r="3.35"/>
<circle class="g" cx="642.5" cy="226.7" r="3.88"/>
<circle class="g" cx="438.1" cy="376.0" r="4.14"/>
<circle class="f" cx="961.4" cy="627.5" r="3.87"/>
<circle class="g" cx="805.6" cy="130.1" r="4.93"/>
<circle class="g" cx="642.4" cy="323.5" r="3.64"/>
<circle class="g" cx="754.8" cy="225.4" r="4.16"/>
<circle class="f" cx="945.7" cy="737.1" r="3.66"/>
<circle class="i" cx="872.5" cy="443.0" r="4.25"/>
<circle class="g" cx="592.1" cy="303.2" r="3.82"/>
<circle class="g" cx="770.5" cy="180.9" r="4.45"/>
<circle class="g" cx="769.4" cy="167.3" r="5.10"/>
<circle class="g" cx="448.3" cy="399.3" r="4.07"/>
<circle class="f" cx="689.0" cy="959.2" r="4.37"/>
<circle class="g" cx="690.1" cy="442.4" r="3.73"/>
<circle class="g" cx="562.7" cy="297.8" r="3.67"/>
<circle class="g" cx="628.4" cy="287.3" r="4.08"/>
<circle class="g" cx="710.6" cy="317.6" r="3.87"/>
<circle class="g" cx="582.8" cy="377.8" r="3.89"/>
<circle class="g" cx="614.0" cy="264.1" r="3.83"/>
<circle class="g" cx="757.1" cy="415.2" r="3.79"/>
<circle class="f" cx="994.4" cy="650.7" r="3.66"/>
<circle class="g" cx="806.8" cy="220.4" r="4.02"/>
<circle class="g" cx="597.3" cy="289.4" r="4.65"/>
<circle class="g" cx="622.8" cy="409.9" r="4.35"/>
<circle class="g" cx="592.0" cy="227.8" r="4.13"/>
<circle class="g" cx="499.9" cy="451.4" r="4.32"/>
<circle class="g" cx="544.7" cy="305.6" r="4.49"/>
<circle class="f" cx="1040.0" cy="803.1" r="3.47"/>
<circle class="g" cx="707.5" cy="241.9" r="4.42"/>
<circle class="g" cx="509.3" cy="318.4" r="3.79"/>
<circle class="g" cx="410.4" cy="492.1" r="3.69"/>
<circle class="g" cx="584.5" cy="337.8" r="4.20"/>
<circle class="f" cx="819.0" cy="785.6" r="3.03"/>
<circle class="g" cx="551.1" cy="345.5" r="3.72"/>
<circle class="g" cx="730.9" cy="398.9" r="3.71"/>
<circle class="g" cx="714.7" cy="226.0" r="3.87"/>
<circle class="g" cx="675.2" cy="283.8" r="4.43"/>
<circle class="r" cx="724.4" cy="229.2" r="3.76"/>
<circle class="f" cx="602.1" cy="1046.7" r="3.76"/>
<circle class="f" cx="896.2" cy="843.8" r="3.35"/>
<circle class="g" cx="628.4" cy="242.9" r="4.31"/>
<circle class="f" cx="878.5" cy="768.9" r="4.37"/>
<circle class="g" cx="349.7" cy="496.2" r="4.04"/>
<circle class="g" cx="550.5" cy="277.1" r="3.75"/>
<circle class="f" cx="729.6" cy="749.6" r="3.13"/>
<circle class="f" cx="921.8" cy="778.8" r="3.66"/>
<circle class="g" cx="735.8" cy="136.9" r="4.88"/>
<circle class="g" cx="526.1" cy="468.2" r="3.67"/>
<circle class="g" cx="632.7" cy="341.2" r="3.89"/>
<circle class="f" cx="742.4" cy="850.2" r="2.83"/>
<circle class="g" cx="513.9" cy="358.6" r="4.55"/>
<circle class="f m" cx="1067.1" cy="600.1" r="7.10"/>
<circle class="g" cx="730.9" cy="248.8" r="4.11"/>
<circle class="g" cx="675.0" cy="167.7" r="5.27"/>
<circle class="g" cx="614.1" cy="316.0" r="3.80"/>
<circle class="f" cx="1134.2" cy="752.9" r="3.47"/>
<circle class="f" cx="643.5" cy="1022.1" r="3.97"/>
<circle class="g" cx="637.2" cy="313.4" r="3.83"/>
<circle class="g" cx="759.2" cy="219.1" r="4.10"/>
<circle class="g" cx="595.3" cy="312.4" r="3.91"/>
<circle class="r" cx="663.3" cy="370.4" r="4.17"/>
<circle class="f" cx="934.8" cy="674.6" r="4.08"/>
<circle class="g" cx="453.8" cy="316.0" r="4.31"/>
<circle class="g" cx="635.4" cy="253.7" r="3.85"/>
<circle class="g" cx="575.9" cy="252.8" r="4.51"/>
<circle class="f" cx="627.9" cy="940.0" r="4.37"/>
<circle class="f" cx="911.9" cy="684.0" r="3.87"/>
<circle class="g" cx="730.5" cy="233.9" r="4.48"/>
<circle class="i" cx="833.8" cy="507.3" r="3.97"/>
<circle class="g" cx="574.3" cy="334.8" r="3.79"/>
<circle class="f" cx="882.2" cy="820.4" r="3.14"/>
<circle class="g" cx="544.3" cy="304.9" r="3.79"/>
<circle class="g" cx="496.6" cy="331.7" r="3.70"/>
<circle class="g" cx="805.2" cy="235.5" r="3.81"/>
<circle class="g" cx="692.6" cy="200.5" r="3.61"/>
<circle class="g" cx="605.3" cy="271.3" r="4.13"/>
<circle class="g" cx="627.5" cy="200.5" r="3.99"/>
<circle class="g" cx="327.5" cy="442.7" r="3.55"/>
<circle class="g" cx="543.5" cy="393.7" r="3.78"/>
<circle class="i" cx="832.5" cy="463.5" r="4.57"/>
<circle class="g" cx="563.3" cy="336.7" r="4.32"/>
<circle class="f" cx="590.6" cy="847.7" r="3.13"/>
<circle class="f" cx="759.2" cy="881.7" r="3.13"/>
<circle class="g" cx="636.7" cy="593.5" r="3.76"/>
<circle class="g" cx="636.0" cy="230.9" r="3.57"/>
<circle class="g m" cx="784.4" cy="130.6" r="6.93"/>
<circle class="f" cx="623.3" cy="935.8" r="3.76"/>
<circle class="f" cx="1029.6" cy="629.6" r="5.18"/>
<circle class="f" cx="892.1" cy="742.3" r="2.83"/>
<circle class="g" cx="495.4" cy="292.9" r="3.95"/>
<circle class="g" cx="572.5" cy="283.2" r="3.68"/>
<circle class="g" cx="384.8" cy="548.5" r="3.97"/>
<circle class="g" cx="463.8" cy="485.2" r="4.05"/>
<circle class="g" cx="670.7" cy="302.1" r="4.21"/>
<circle class="g" cx="599.8" cy="271.6" r="3.90"/>
<circle class="g" cx="706.1" cy="171.9" r="4.49"/>
<circle class="g" cx="471.5" cy="329.8" r="3.78"/>
<circle class="g" cx="501.6" cy="316.6" r="4.43"/>
<circle class="g" cx="562.5" cy="344.1" r="3.61"/>
<circle class="g m" cx="781.9" cy="141.9" r="5.56"/>
<circle class="g" cx="637.3" cy="470.7" r="4.06"/>
<circle class="g" cx="334.2" cy="393.3" r="3.76"/>
<circle class="g m" cx="917.1" cy="86.5" r="5.70"/>
<circle class="g" cx="797.5" cy="151.4" r="4.38"/>
<circle class="g" cx="724.5" cy="281.5" r="3.79"/>
<circle class="g" cx="588.5" cy="299.6" r="4.78"/>
<circle class="g" cx="744.6" cy="238.1" r="3.55"/>
<circle class="i" cx="902.9" cy="436.9" r="4.70"/>
<circle class="f" cx="916.0" cy="823.8" r="3.35"/>
<circle class="f" cx="922.3" cy="652.5" r="3.66"/>
<circle class="g" cx="558.0" cy="256.1" r="4.11"/>
<circle class="g" cx="603.4" cy="305.1" r="4.25"/>
<circle class="r" cx="675.4" cy="346.9" r="3.76"/>
<circle class="g" cx="673.1" cy="209.7" r="3.65"/>
<circle class="g" cx="648.2" cy="219.9" r="3.93"/>
<circle class="g" cx="668.1" cy="287.9" r="3.56"/>
<circle class="g" cx="559.6" cy="311.0" r="3.91"/>
<circle class="g" cx="786.2" cy="209.1" r="4.51"/>
<circle class="g" cx="566.9" cy="282.4" r="3.78"/>
<circle class="g" cx="442.9" cy="460.9" r="3.98"/>
<circle class="f" cx="820.5" cy="865.8" r="3.35"/>
<circle class="g" cx="598.8" cy="396.8" r="3.86"/>
<circle class="g" cx="723.8" cy="409.6" r="3.81"/>
<circle class="g" cx="396.5" cy="395.2" r="3.68"/>
<circle class="g" cx="725.2" cy="192.2" r="3.98"/>
<circle class="i" cx="845.2" cy="445.6" r="4.25"/>
<circle class="g" cx="609.3" cy="272.0" r="3.99"/>
<circle class="g" cx="649.8" cy="250.1" r="4.27"/>
<circle class="g" cx="659.6" cy="267.7" r="3.45"/>
<circle class="g" cx="701.6" cy="183.6" r="4.74"/>
<circle class="f" cx="837.9" cy="708.3" r="3.34"/>
<circle class="g" cx="356.9" cy="661.7" r="3.34"/>
<circle class="g" cx="721.3" cy="292.9" r="3.61"/>
<circle class="g" cx="476.0" cy="356.3" r="4.31"/>
<circle class="f" cx="873.9" cy="673.5" r="3.87"/>
<circle class="g" cx="651.5" cy="238.5" r="3.68"/>
<circle class="g" cx="691.1" cy="382.0" r="4.55"/>
<circle class="f" cx="1036.0" cy="719.5" r="3.45"/>
<circle class="g" cx="393.9" cy="496.4" r="3.56"/>
<circle class="g" cx="736.4" cy="215.2" r="3.67"/>
<circle class="g" cx="563.9" cy="348.3" r="4.52"/>
<circle class="g" cx="612.2" cy="200.3" r="4.27"/>
<circle class="g" cx="576.3" cy="280.6" r="4.33"/>
<circle class="g" cx="599.4" cy="340.2" r="3.96"/>
<circle class="g" cx="713.0" cy="211.5" r="4.03"/>
<circle class="g" cx="668.3" cy="234.0" r="3.87"/>
<circle class="g" cx="538.5" cy="350.2" r="3.51"/>
<circle class="g" cx="630.6" cy="403.5" r="3.90"/>
<circle class="g" cx="665.1" cy="234.5" r="4.52"/>
<circle class="f" cx="742.9" cy="791.4" r="3.66"/>
<circle class="g" cx="702.7" cy="298.5" r="3.91"/>
<circle class="g" cx="594.8" cy="347.4" r="3.93"/>
<circle class="g" cx="369.7" cy="489.0" r="3.40"/>
<circle class="g" cx="569.7" cy="436.5" r="3.88"/>
<circle class="f" cx="992.1" cy="823.3" r="4.17"/>
<circle class="g" cx="683.3" cy="219.2" r="3.51"/>
<circle class="f" cx="1033.3" cy="781.9" r="3.13"/>
<circle class="g" cx="525.4" cy="342.4" r="4.12"/>
<circle class="g" cx="441.5" cy="340.8" r="3.82"/>
<circle class="f" cx="874.4" cy="763.1" r="5.20"/>
<circle class="g" cx="624.8" cy="189.5" r="3.76"/>
<circle class="g" cx="675.4" cy="337.0" r="4.16"/>
<circle class="g" cx="671.7" cy="211.3" r="4.71"/>
<circle class="i" cx="790.4" cy="494.5" r="3.60"/>
<circle class="g" cx="678.1" cy="235.3" r="3.79"/>
<circle class="f" cx="886.4" cy="710.5" r="3.35"/>
<circle class="g" cx="412.7" cy="431.6" r="4.39"/>
<circle class="g" cx="589.0" cy="239.6" r="3.97"/>
<circle class="g" cx="572.8" cy="353.9" r="3.87"/>
<circle class="g" cx="746.7" cy="229.2" r="4.32"/>
<circle class="g" cx="515.5" cy="357.2" r="4.38"/>
<circle class="g" cx="227.5" cy="600.0" r="2.92"/>
<circle class="g" cx="566.7" cy="355.5" r="4.42"/>
<circle class="g" cx="571.2" cy="244.8" r="4.37"/>
<circle class="f" cx="666.0" cy="923.1" r="3.13"/>
<circle class="g" cx="655.4" cy="396.9" r="4.54"/>
<circle class="f" cx="823.6" cy="850.2" r="3.03"/>
<circle class="g" cx="849.4" cy="131.2" r="3.97"/>
<circle class="f" cx="864.5" cy="661.4" r="3.66"/>
<circle class="g" cx="644.8" cy="509.8" r="3.97"/>
<circle class="g" cx="571.6" cy="451.2" r="4.25"/>
<circle class="g" cx="569.4" cy="287.8" r="3.71"/>
<circle class="g" cx="637.8" cy="260.0" r="3.91"/>
<circle class="g" cx="756.1" cy="230.4" r="5.01"/>
<circle class="g" cx="653.1" cy="529.6" r="3.76"/>
<circle class="f" cx="662.2" cy="813.8" r="4.08"/>
<circle class="g" cx="693.3" cy="362.8" r="3.72"/>
<circle class="g" cx="684.4" cy="252.1" r="3.77"/>
<circle class="g" cx="551.9" cy="299.5" r="3.82"/>
<circle class="f" cx="735.4" cy="883.1" r="4.17"/>
<circle class="g" cx="647.3" cy="215.4" r="3.80"/>
<circle class="f" cx="745.5" cy="761.7" r="4.37"/>
<circle class="i" cx="778.7" cy="480.6" r="3.60"/>
<circle class="g" cx="493.2" cy="275.6" r="4.16"/>
<circle class="i" cx="739.6" cy="557.1" r="4.17"/>
<circle class="f" cx="986.0" cy="609.4" r="3.35"/>
<circle class="g" cx="646.7" cy="293.7" r="3.52"/>
<circle class="g" cx="605.1" cy="301.5" r="3.85"/>
<circle class="g" cx="471.2" cy="412.9" r="3.71"/>
<circle class="f" cx="830.6" cy="745.8" r="3.55"/>
<circle class="f" cx="814.2" cy="735.8" r="5.20"/>
<circle class="f" cx="778.3" cy="839.8" r="3.87"/>
<circle class="f" cx="781.5" cy="770.0" r="3.35"/>
<circle class="g" cx="669.6" cy="201.3" r="3.76"/>
<circle class="g" cx="579.4" cy="283.9" r="4.15"/>
<circle class="g" cx="726.9" cy="94.8" r="4.78"/>
<circle class="g" cx="566.7" cy="382.9" r="4.13"/>
<circle class="g" cx="442.5" cy="344.9" r="4.62"/>
<circle class="g m" cx="754.9" cy="162.8" r="5.49"/>
<circle class="g" cx="528.7" cy="389.6" r="3.76"/>
<circle class="g" cx="727.5" cy="275.4" r="3.82"/>
<circle class="g" cx="541.4" cy="345.8" r="4.53"/>
<circle class="g" cx="427.8" cy="373.7" r="3.66"/>
<circle class="g" cx="680.3" cy="280.4" r="3.87"/>
<circle class="g" cx="550.6" cy="371.4" r="3.35"/>
<circle class="g" cx="720.9" cy="274.5" r="3.72"/>
<circle class="g" cx="615.0" cy="209.3" r="3.49"/>
<circle class="g" cx="491.0" cy="601.5" r="4.37"/>
<circle class="f" cx="791.9" cy="854.4" r="4.37"/>
<circle class="f" cx="849.4" cy="773.0" r="4.37"/>
<circle class="g" cx="699.0" cy="220.8" r="4.00"/>
<circle class="g" cx="535.1" cy="468.9" r="4.00"/>
<circle class="g" cx="799.6" cy="123.1" r="4.25"/>
<circle class="f" cx="809.6" cy="794.0" r="3.87"/>
<circle class="g" cx="595.3" cy="422.1" r="3.68"/>
<circle class="g" cx="686.5" cy="202.9" r="3.92"/>
<circle class="g" cx="749.4" cy="238.6" r="3.68"/>
<circle class="g" cx="700.5" cy="119.9" r="4.57"/>
<circle class="f" cx="733.0" cy="824.7" r="3.03"/>
<circle class="g" cx="613.5" cy="200.8" r="3.92"/>
<circle class="g" cx="788.1" cy="201.4" r="4.52"/>
<circle class="g" cx="772.5" cy="188.0" r="4.04"/>
<circle class="f" cx="604.2" cy="912.9" r="3.55"/>
<circle class="g" cx="417.3" cy="357.2" r="4.18"/>
<circle class="g" cx="474.2" cy="382.8" r="4.46"/>
<circle class="f" cx="703.3" cy="841.9" r="3.35"/>
<circle class="g" cx="823.7" cy="154.6" r="4.83"/>
<circle class="g" cx="692.2" cy="217.9" r="3.88"/>
<circle class="g" cx="484.9" cy="296.6" r="3.96"/>
<circle class="g" cx="586.1" cy="287.6" r="3.93"/>
<circle class="g" cx="621.6" cy="247.0" r="5.28"/>
<circle class="g m" cx="789.9" cy="64.0" r="5.89"/>
<circle class="g" cx="748.9" cy="211.5" r="3.88"/>
<circle class="g" cx="540.5" cy="295.9" r="4.16"/>
<circle class="g" cx="586.5" cy="632.1" r="3.34"/>
<circle class="g" cx="584.4" cy="331.9" r="4.32"/>
<circle class="g m" cx="856.7" cy="61.5" r="6.27"/>
<circle class="g" cx="695.2" cy="283.7" r="4.53"/>
<circle class="g" cx="495.5" cy="349.2" r="3.83"/>
<circle class="i" cx="804.2" cy="524.0" r="4.37"/>
<circle class="g" cx="700.3" cy="285.8" r="4.19"/>
<circle class="g" cx="590.1" cy="247.6" r="4.53"/>
<circle class="g" cx="597.0" cy="232.3" r="4.78"/>
<circle class="g" cx="681.7" cy="239.4" r="4.34"/>
<circle class="g m" cx="664.9" cy="183.6" r="6.40"/>
<circle class="g" cx="736.2" cy="386.9" r="3.70"/>
<circle class="f" cx="713.2" cy="792.4" r="3.14"/>
<circle class="f" cx="950.4" cy="733.4" r="4.62"/>
<circle class="f" cx="930.6" cy="667.3" r="3.66"/>
<circle class="f" cx="982.4" cy="648.6" r="3.35"/>
<circle class="g" cx="628.4" cy="288.6" r="3.56"/>
<circle class="g" cx="537.4" cy="280.7" r="4.83"/>
<circle class="g" cx="625.9" cy="233.1" r="4.59"/>
<circle class="g" cx="541.3" cy="340.0" r="3.96"/>
<circle class="g" cx="605.7" cy="301.2" r="5.07"/>
<circle class="g" cx="552.1" cy="718.5" r="3.55"/>
<circle class="g m" cx="769.7" cy="190.2" r="5.87"/>
<circle class="g m" cx="711.9" cy="103.9" r="5.89"/>
<circle class="g" cx="633.0" cy="285.8" r="3.85"/>
<circle class="g" cx="751.6" cy="95.2" r="4.25"/>
<circle class="g" cx="572.6" cy="278.1" r="3.89"/>
<circle class="g" cx="606.3" cy="259.8" r="3.95"/>
<circle class="g" cx="593.0" cy="277.9" r="3.85"/>
<circle class="g" cx="600.1" cy="443.6" r="3.45"/>
<circle class="g" cx="786.3" cy="136.2" r="4.69"/>
<circle class="g" cx="597.4" cy="227.5" r="4.33"/>
<circle class="g" cx="750.5" cy="86.1" r="3.60"/>
<circle class="g" cx="545.1" cy="423.0" r="3.65"/>
<circle class="g" cx="671.9" cy="277.0" r="3.57"/>
<circle class="g" cx="626.9" cy="175.6" r="4.20"/>
<circle class="g" cx="558.8" cy="275.3" r="3.99"/>
<circle class="g" cx="724.3" cy="256.5" r="4.00"/>
<circle class="g" cx="765.8" cy="147.9" r="4.81"/>
<circle class="g" cx="461.5" cy="358.5" r="3.52"/>
<circle class="g" cx="559.7" cy="305.6" r="3.90"/>
<circle class="g" cx="637.6" cy="285.7" r="3.65"/>
<circle class="g" cx="778.0" cy="147.3" r="4.01"/>
<circle class="g" cx="666.9" cy="184.6" r="4.96"/>
<circle class="g" cx="604.6" cy="304.4" r="3.95"/>
<circle class="g" cx="799.5" cy="191.3" r="3.98"/>
<circle class="g" cx="704.8" cy="217.3" r="3.85"/>
<circle class="g m" cx="763.2" cy="154.5" r="5.72"/>
<circle class="f" cx="938.4" cy="652.0" r="3.87"/>
<circle class="g" cx="601.3" cy="224.7" r="5.25"/>
<circle class="g" cx="686.3" cy="220.3" r="3.58"/>
<circle class="g" cx="615.5" cy="344.4" r="5.11"/>
<circle class="f" cx="890.8" cy="570.2" r="4.54"/>
<circle class="g" cx="660.4" cy="230.3" r="4.96"/>
<circle class="g" cx="710.3" cy="214.3" r="4.34"/>
<circle class="g" cx="413.6" cy="361.5" r="4.00"/>
<circle class="g" cx="820.0" cy="213.2" r="3.93"/>
<circle class="g" cx="534.6" cy="370.8" r="3.94"/>
<circle class="g" cx="572.5" cy="610.4" r="4.17"/>
<circle class="g" cx="647.3" cy="227.2" r="3.90"/>
<circle class="g" cx="718.9" cy="262.0" r="4.84"/>
<circle class="g" cx="593.7" cy="259.5" r="3.93"/>
<circle class="g" cx="489.0" cy="370.4" r="3.50"/>
<circle class="g" cx="672.9" cy="252.0" r="3.62"/>
<circle class="g" cx="511.2" cy="265.0" r="3.79"/>
<circle class="g" cx="517.8" cy="480.6" r="3.56"/>
<circle class="g" cx="635.9" cy="217.5" r="4.12"/>
<circle class="g" cx="554.5" cy="442.9" r="3.72"/>
<circle class="f" cx="747.3" cy="1029.2" r="3.34"/>
<circle class="g" cx="589.9" cy="396.2" r="3.93"/>
<circle class="g" cx="481.4" cy="435.5" r="3.67"/>
<circle class="g" cx="569.1" cy="332.9" r="3.61"/>
<circle class="g" cx="722.9" cy="211.9" r="4.03"/>
<circle class="f" cx="945.2" cy="687.6" r="4.08"/>
<circle class="g" cx="745.9" cy="227.9" r="4.73"/>
<circle class="f" cx="984.2" cy="688.2" r="4.79"/>
<circle class="g" cx="706.8" cy="383.5" r="3.43"/>
<circle class="i" cx="782.1" cy="511.5" r="4.17"/>
<circle class="g m" cx="511.0" cy="442.7" r="5.48"/>
<circle class="f" cx="753.9" cy="810.1" r="3.03"/>
<circle class="g" cx="467.6" cy="422.7" r="4.03"/>
<circle class="g" cx="685.8" cy="268.3" r="3.71"/>
<circle class="g" cx="451.3" cy="445.2" r="4.03"/>
<circle class="f" cx="645.6" cy="739.6" r="3.34"/>
<circle class="g" cx="649.8" cy="277.8" r="4.56"/>
<circle class="g" cx="697.3" cy="324.2" r="4.21"/>
<circle class="g" cx="621.2" cy="281.8" r="4.33"/>
<circle class="f" cx="883.2" cy="703.8" r="3.35"/>
<circle class="g" cx="691.7" cy="246.8" r="3.79"/>
<circle class="g" cx="754.1" cy="209.0" r="4.58"/>
<circle class="g" cx="380.2" cy="519.4" r="3.55"/>
<circle class="g" cx="762.0" cy="201.7" r="4.50"/>
<circle class="g" cx="504.9" cy="413.9" r="3.72"/>
<circle class="g" cx="442.1" cy="231.7" r="3.55"/>
<circle class="g m" cx="782.1" cy="165.9" r="5.99"/>
<circle class="f" cx="952.0" cy="709.5" r="3.87"/>
<circle class="f" cx="827.3" cy="781.5" r="3.35"/>
<circle class="g" cx="688.1" cy="271.9" r="3.83"/>
<circle class="g" cx="374.4" cy="501.0" r="3.55"/>
<circle class="g" cx="770.5" cy="296.3" r="3.79"/>
<circle class="g" cx="538.3" cy="305.7" r="3.79"/>
<circle class="f" cx="739.8" cy="822.6" r="4.08"/>
<circle class="g m" cx="673.0" cy="176.9" r="6.09"/>
<circle class="g" cx="487.5" cy="339.2" r="3.97"/>
<circle class="g" cx="608.1" cy="216.2" r="4.48"/>
<circle class="g" cx="506.7" cy="181.9" r="3.55"/>
<circle class="g" cx="833.2" cy="190.7" r="5.19"/>
<circle class="g" cx="617.5" cy="263.8" r="3.59"/>
<circle class="g" cx="566.1" cy="341.4" r="3.84"/>
<circle class="g" cx="376.5" cy="553.8" r="3.55"/>
<circle class="g" cx="625.3" cy="267.9" r="4.42"/>
<circle class="g" cx="655.0" cy="306.2" r="3.77"/>
<circle class="g" cx="545.8" cy="399.3" r="3.47"/>
<circle class="f" cx="938.4" cy="671.5" r="3.03"/>
<circle class="f" cx="769.5" cy="796.6" r="3.45"/>
<circle class="f" cx="869.2" cy="707.4" r="3.66"/>
<circle class="g" cx="572.3" cy="274.9" r="4.23"/>
<circle class="g" cx="734.5" cy="166.3" r="4.63"/>
<circle class="g m" cx="784.9" cy="79.6" r="5.30"/>
<circle class="g" cx="540.8" cy="330.5" r="3.44"/>
<circle class="i" cx="766.0" cy="527.7" r="3.97"/>
<circle class="g" cx="617.1" cy="212.1" r="3.79"/>
<circle class="i" cx="777.5" cy="532.7" r="3.55"/>
<circle class="f" cx="601.0" cy="821.2" r="3.76"/>
<circle class="f" cx="1006.0" cy="549.0" r="5.02"/>
<circle class="g" cx="543.7" cy="370.9" r="3.67"/>
<circle class="g" cx="683.3" cy="260.5" r="3.66"/>
<circle class="g" cx="666.3" cy="414.3" r="3.80"/>
<circle class="g" cx="639.0" cy="253.0" r="4.63"/>
<circle class="i" cx="781.7" cy="377.5" r="4.37"/>
<circle class="g" cx="495.1" cy="346.9" r="3.89"/>
<circle class="g" cx="663.1" cy="263.9" r="3.48"/>
<circle class="g" cx="563.3" cy="253.7" r="3.55"/>
<circle class="f" cx="828.5" cy="635.4" r="3.55"/>
<circle class="g" cx="576.0" cy="263.1" r="4.19"/>
<circle class="g" cx="466.7" cy="421.0" r="3.84"/>
<circle class="g m" cx="870.2" cy="50.0" r="5.37"/>
<circle class="i" cx="882.2" cy="459.2" r="4.25"/>
<circle class="g" cx="756.9" cy="321.7" r="4.12"/>
<circle class="g" cx="877.1" cy="344.8" r="2.92"/>
<circle class="g" cx="660.7" cy="232.7" r="3.97"/>
<circle class="f" cx="1054.1" cy="738.1" r="3.47"/>
<circle class="g" cx="608.0" cy="422.2" r="3.65"/>
<circle class="g" cx="573.7" cy="316.9" r="3.66"/>
<circle class="g" cx="547.2" cy="256.0" r="3.78"/>
<circle class="g" cx="692.3" cy="237.8" r="3.80"/>
<circle class="g" cx="575.5" cy="300.6" r="3.73"/>
<circle class="g" cx="439.1" cy="342.2" r="4.05"/>
<circle class="g" cx="467.1" cy="740.0" r="3.97"/>
<circle class="g" cx="465.2" cy="368.3" r="3.70"/>
<circle class="g" cx="589.3" cy="341.5" r="4.80"/>
<circle class="g" cx="707.4" cy="257.6" r="3.81"/>
<circle class="f" cx="915.0" cy="791.5" r="4.08"/>
<circle class="g" cx="595.7" cy="310.1" r="4.66"/>
<circle class="g" cx="689.0" cy="198.4" r="4.63"/>
<circle class="g" cx="729.9" cy="221.6" r="4.04"/>
<circle class="g" cx="335.8" cy="575.0" r="3.55"/>
<circle class="g" cx="632.1" cy="213.4" r="4.50"/>
<circle class="f" cx="642.1" cy="908.1" r="3.97"/>
<circle class="g" cx="734.1" cy="219.6" r="4.27"/>
<circle class="g" cx="509.1" cy="304.2" r="3.87"/>
<circle class="g" cx="665.5" cy="311.1" r="4.11"/>
<circle class="g" cx="640.3" cy="233.4" r="4.39"/>
<circle class="g" cx="758.0" cy="186.9" r="4.66"/>
<circle class="g" cx="447.0" cy="325.8" r="3.94"/>
<circle class="g" cx="633.8" cy="213.1" r="5.26"/>
<circle class="f" cx="834.6" cy="822.6" r="3.03"/>
<circle class="f" cx="1038.0" cy="602.0" r="5.18"/>
<circle class="g" cx="830.7" cy="143.3" r="5.27"/>
<circle class="g m" cx="647.3" cy="190.6" r="6.40"/>
<circle class="g" cx="766.3" cy="434.7" r="3.93"/>
<circle class="g" cx="571.3" cy="314.2" r="3.79"/>
<circle class="g" cx="564.5" cy="327.5" r="3.94"/>
<circle class="g" cx="698.8" cy="248.2" r="3.96"/>
<circle class="g" cx="681.1" cy="265.7" r="4.72"/>
<circle class="f" cx="973.8" cy="776.5" r="4.37"/>
<circle class="f m" cx="1009.0" cy="603.5" r="5.50"/>
<circle class="g" cx="584.4" cy="259.4" r="3.74"/>
<circle class="g" cx="545.6" cy="452.0" r="4.01"/>
<circle class="g" cx="643.7" cy="299.8" r="4.83"/>
<circle class="f" cx="850.9" cy="803.1" r="3.35"/>
<circle class="g" cx="585.3" cy="314.8" r="3.85"/>
<circle class="g" cx="488.2" cy="363.9" r="3.92"/>
<circle class="g" cx="377.8" cy="490.2" r="4.30"/>
<circle class="g" cx="565.6" cy="226.0" r="4.70"/>
<circle class="g" cx="671.5" cy="395.2" r="3.74"/>
<circle class="f" cx="708.5" cy="971.9" r="3.97"/>
<circle class="g" cx="733.1" cy="84.2" r="4.98"/>
<circle class="g" cx="798.1" cy="231.9" r="3.75"/>
<circle class="f" cx="929.6" cy="753.8" r="3.87"/>
<circle class="g" cx="837.3" cy="131.7" r="5.10"/>
<circle class="g" cx="268.5" cy="470.8" r="3.34"/>
<circle class="f" cx="741.9" cy="865.8" r="3.35"/>
<circle class="g" cx="482.2" cy="335.4" r="3.69"/>
<circle class="f" cx="875.4" cy="720.4" r="4.08"/>
<circle class="f" cx="770.0" cy="777.8" r="3.66"/>
<circle class="g" cx="642.3" cy="264.1" r="4.21"/>
<circle class="f" cx="820.8" cy="718.1" r="3.55"/>
<circle class="g" cx="613.8" cy="236.5" r="3.75"/>
<circle class="g" cx="682.8" cy="266.1" r="4.30"/>
<circle class="f" cx="814.3" cy="762.7" r="3.87"/>
<circle class="g" cx="344.2" cy="600.2" r="3.13"/>
<circle class="g m" cx="488.3" cy="330.3" r="5.43"/>
<circle class="g" cx="610.3" cy="279.3" r="4.50"/>
<circle class="f" cx="736.1" cy="813.2" r="3.66"/>
<circle class="f" cx="917.1" cy="842.0" r="3.87"/>
<circle class="i" cx="775.1" cy="463.1" r="3.86"/>
<circle class="g" cx="593.2" cy="398.3" r="3.84"/>
<circle class="g" cx="637.1" cy="239.6" r="4.45"/>
<circle class="g" cx="705.7" cy="216.2" r="4.63"/>
<circle class="g" cx="522.3" cy="382.4" r="4.60"/>
<circle class="g" cx="615.6" cy="194.8" r="4.70"/>
<circle class="g m" cx="558.6" cy="333.4" r="5.31"/>
<circle class="f" cx="1076.1" cy="672.4" r="4.51"/>
<circle class="g" cx="471.0" cy="481.3" r="3.64"/>
<circle class="g" cx="766.1" cy="200.6" r="3.90"/>
<circle class="f m" cx="986.9" cy="598.0" r="6.30"/>
<circle class="g" cx="637.7" cy="366.7" r="3.85"/>
<circle class="g" cx="633.9" cy="218.2" r="3.85"/>
<circle class="g" cx="611.1" cy="272.9" r="4.01"/>
<circle class="g" cx="345.2" cy="528.8" r="4.17"/>
<circle class="g" cx="651.8" cy="293.0" r="4.03"/>
<circle class="g" cx="598.4" cy="300.4" r="4.13"/>
<circle class="i" cx="817.7" cy="424.8" r="4.78"/>
<circle class="g" cx="458.2" cy="377.3" r="3.56"/>
<circle class="g" cx="626.9" cy="222.9" r="4.39"/>
<circle class="g" cx="713.7" cy="257.6" r="4.10"/>
<circle class="f" cx="924.4" cy="740.7" r="3.87"/>
<circle class="f" cx="878.0" cy="674.6" r="3.03"/>
<circle class="g" cx="530.4" cy="380.2" r="4.48"/>
<circle class="g" cx="667.0" cy="194.3" r="5.07"/>
<circle class="g" cx="500.5" cy="332.6" r="3.63"/>
<circle class="f" cx="802.3" cy="791.9" r="3.03"/>
<circle class="g" cx="819.7" cy="88.1" r="3.86"/>
<circle class="g" cx="652.2" cy="269.1" r="3.85"/>
<circle class="g" cx="753.7" cy="166.5" r="4.88"/>
<circle class="i" cx="806.5" cy="413.5" r="4.25"/>
<circle class="g" cx="522.2" cy="291.0" r="3.71"/>
<circle class="f" cx="676.5" cy="989.8" r="5.03"/>
<circle class="f" cx="745.8" cy="956.2" r="4.37"/>
<circle class="g" cx="688.2" cy="198.0" r="4.37"/>
<circle class="g" cx="664.3" cy="252.5" r="3.52"/>
<circle class="g" cx="646.9" cy="223.0" r="4.71"/>
<circle class="g" cx="586.7" cy="261.3" r="3.74"/>
<circle class="g" cx="781.6" cy="154.4" r="5.09"/>
<circle class="g" cx="630.9" cy="383.2" r="4.36"/>
<circle class="g" cx="663.9" cy="173.7" r="5.10"/>
<circle class="f" cx="723.1" cy="789.3" r="3.14"/>
<circle class="g" cx="668.4" cy="196.8" r="4.64"/>
<circle class="g m" cx="392.5" cy="394.9" r="5.48"/>
<circle class="f" cx="820.5" cy="777.3" r="3.35"/>
<circle class="f" cx="966.8" cy="639.6" r="3.35"/>
<circle class="g" cx="750.7" cy="222.3" r="4.81"/>
<circle class="g" cx="651.4" cy="309.2" r="3.98"/>
<circle class="g" cx="649.3" cy="265.0" r="3.76"/>
<circle class="g" cx="471.2" cy="508.3" r="3.34"/>
<circle class="f" cx="886.9" cy="777.7" r="3.35"/>
<circle class="g" cx="700.7" cy="442.2" r="4.02"/>
<circle class="g" cx="657.5" cy="224.6" r="4.41"/>
<circle class="g" cx="571.7" cy="309.2" r="3.63"/>
<circle class="g" cx="586.1" cy="255.5" r="3.82"/>
<circle class="g" cx="704.2" cy="306.0" r="3.86"/>
<circle class="f" cx="710.2" cy="905.8" r="3.55"/>
<circle class="g" cx="696.1" cy="477.3" r="4.33"/>
<circle class="f" cx="683.8" cy="930.2" r="3.97"/>
<circle class="g b" cx="858.8" cy="161.5" r="7.32"/>
<circle class="g m" cx="652.5" cy="176.5" r="5.84"/>
<circle class="g" cx="552.4" cy="323.5" r="3.71"/>
<circle class="f" cx="948.3" cy="661.0" r="3.35"/>
<circle class="g" cx="798.1" cy="219.8" r="4.14"/>
<circle class="g" cx="706.6" cy="240.4" r="3.73"/>
<circle class="g" cx="557.4" cy="443.0" r="4.07"/>
<circle class="i" cx="878.1" cy="464.0" r="4.37"/>
<circle class="g" cx="681.2" cy="290.2" r="4.29"/>
<circle class="g" cx="703.6" cy="389.5" r="4.49"/>
<circle class="g" cx="794.9" cy="206.3" r="4.10"/>
<circle class="i" cx="831.7" cy="527.7" r="3.97"/>
<circle class="g" cx="603.3" cy="221.6" r="3.95"/>
<circle class="g" cx="567.9" cy="410.3" r="3.98"/>
<circle class="g" cx="606.8" cy="313.2" r="4.23"/>
<circle class="g" cx="772.7" cy="132.9" r="5.13"/>
<circle class="g" cx="680.9" cy="303.2" r="3.93"/>
<circle class="f" cx="744.0" cy="835.6" r="3.35"/>
<circle class="g" cx="619.3" cy="242.3" r="3.73"/>
<circle class="g" cx="546.9" cy="297.1" r="3.89"/>
<circle class="g" cx="613.8" cy="234.9" r="3.92"/>
<circle class="g" cx="692.4" cy="143.9" r="4.84"/>
<circle class="g" cx="517.3" cy="428.8" r="4.39"/>
<circle class="g" cx="337.9" cy="421.9" r="3.34"/>
<circle class="g" cx="557.7" cy="454.9" r="3.82"/>
<circle class="g" cx="597.6" cy="287.7" r="3.88"/>
<circle class="i" cx="732.5" cy="540.4" r="4.53"/>
<circle class="g" cx="688.1" cy="256.1" r="4.68"/>
<circle class="g" cx="643.6" cy="313.0" r="4.13"/>
<circle class="g" cx="639.0" cy="208.3" r="3.63"/>
<circle class="i" cx="688.8" cy="557.7" r="4.37"/>
<circle class="g" cx="672.8" cy="258.1" r="4.44"/>
<circle class="f" cx="898.3" cy="781.4" r="3.35"/>
<circle class="g" cx="682.9" cy="225.5" r="3.93"/>
<circle class="g" cx="770.5" cy="169.8" r="4.84"/>
<circle class="g" cx="550.1" cy="382.7" r="4.03"/>
<circle class="g" cx="496.7" cy="571.5" r="3.55"/>
<circle class="f" cx="758.5" cy="818.4" r="2.83"/>
<circle class="f" cx="931.7" cy="614.2" r="4.08"/>
<circle class="g" cx="523.7" cy="340.9" r="4.78"/>
<circle class="g" cx="461.2" cy="399.4" r="3.71"/>
<circle class="g" cx="467.2" cy="353.9" r="3.95"/>
<circle class="g" cx="289.2" cy="586.0" r="3.55"/>
<circle class="f" cx="798.8" cy="718.3" r="3.13"/>
<circle class="f" cx="886.9" cy="749.1" r="3.35"/>
<circle class="g" cx="741.8" cy="159.5" r="4.82"/>
<circle class="g" cx="801.6" cy="257.5" r="4.07"/>
<circle class="g" cx="637.6" cy="251.3" r="3.74"/>
<circle class="g" cx="604.1" cy="233.8" r="4.72"/>
<circle class="g" cx="496.7" cy="339.6" r="4.31"/>
<circle class="g" cx="698.2" cy="388.8" r="4.07"/>
<circle class="f" cx="1076.1" cy="785.7" r="3.83"/>
<circle class="g" cx="417.6" cy="442.7" r="3.64"/>
<circle class="g" cx="552.9" cy="294.6" r="3.73"/>
<circle class="g" cx="541.7" cy="290.7" r="3.64"/>
<circle class="g" cx="588.0" cy="317.0" r="3.60"/>
<circle class="f" cx="940.5" cy="640.5" r="3.35"/>
<circle class="g" cx="544.6" cy="326.7" r="3.62"/>
<circle class="g" cx="488.7" cy="349.7" r="4.34"/>
<circle class="i" cx="710.8" cy="570.6" r="3.55"/>
<circle class="g" cx="573.0" cy="281.6" r="4.39"/>
<circle class="g" cx="714.3" cy="166.3" r="4.61"/>
<circle class="f" cx="748.1" cy="858.0" r="2.83"/>
<circle class="i" cx="933.8" cy="439.6" r="3.55"/>
<circle class="g" cx="596.0" cy="223.5" r="3.78"/>
<circle class="g" cx="610.1" cy="229.4" r="4.18"/>
<circle class="g" cx="597.3" cy="290.3" r="4.36"/>
<circle class="g" cx="624.3" cy="220.2" r="3.84"/>
<circle class="f" cx="666.0" cy="901.9" r="3.13"/>
<circle class="g" cx="617.6" cy="281.2" r="4.36"/>
<circle class="g" cx="658.7" cy="381.6" r="4.39"/>
<circle class="g" cx="566.8" cy="315.4" r="3.93"/>
<circle class="g" cx="747.7" cy="355.3" r="3.86"/>
<circle class="g" cx="671.0" cy="278.0" r="4.10"/>
<circle class="g" cx="331.7" cy="440.0" r="3.55"/>
<circle class="g" cx="623.7" cy="354.1" r="3.70"/>
<circle class="g" cx="574.1" cy="323.8" r="3.93"/>
<circle class="g m" cx="471.2" cy="443.2" r="5.47"/>
<circle class="g" cx="561.8" cy="315.5" r="3.99"/>
<circle class="g m" cx="745.6" cy="165.2" r="5.65"/>
<circle class="f" cx="770.4" cy="621.9" r="4.17"/>
<circle class="r" cx="653.5" cy="350.0" r="3.76"/>
<circle class="g" cx="721.9" cy="202.8" r="4.34"/>
<circle class="g" cx="780.8" cy="218.1" r="3.93"/>
<circle class="g" cx="499.7" cy="436.8" r="4.06"/>
<circle class="i m" cx="864.7" cy="452.1" r="5.69"/>
<circle class="f" cx="854.6" cy="736.6" r="3.87"/>
<circle class="g" cx="636.3" cy="303.7" r="3.69"/>
<circle class="g" cx="585.9" cy="311.8" r="3.67"/>
<circle class="g" cx="715.2" cy="195.3" r="4.92"/>
<circle class="g" cx="739.6" cy="502.5" r="3.34"/>
<circle class="f m" cx="991.0" cy="630.8" r="5.34"/>
<circle class="f" cx="1036.4" cy="653.9" r="5.20"/>
<circle class="g" cx="504.9" cy="320.5" r="4.41"/>
<circle class="f" cx="587.3" cy="971.2" r="3.76"/>
<circle class="g" cx="606.2" cy="387.9" r="4.23"/>
<circle class="g" cx="495.8" cy="435.4" r="3.54"/>
<circle class="g" cx="707.2" cy="211.9" r="3.81"/>
<circle class="g" cx="724.4" cy="175.6" r="4.74"/>
<circle class="f" cx="596.2" cy="1030.4" r="4.87"/>
<circle class="g" cx="275.4" cy="579.8" r="3.97"/>
<circle class="g" cx="373.3" cy="551.7" r="3.97"/>
<circle class="f" cx="866.9" cy="867.7" r="3.35"/>
<circle class="g" cx="601.5" cy="361.8" r="3.98"/>
<circle class="g" cx="607.2" cy="189.0" r="4.04"/>
<circle class="g" cx="653.5" cy="228.8" r="3.85"/>
<circle class="g" cx="609.9" cy="320.0" r="3.49"/>
<circle class="g" cx="635.7" cy="263.9" r="4.04"/>
<circle class="f" cx="773.8" cy="902.7" r="3.55"/>
<circle class="g" cx="750.3" cy="237.0" r="3.93"/>
<circle class="g m" cx="779.6" cy="158.6" r="6.23"/>
<circle class="f b" cx="778.5" cy="835.4" r="7.40"/>
<circle class="g" cx="637.1" cy="261.2" r="4.28"/>
<circle class="f" cx="917.1" cy="784.0" r="2.83"/>
<circle class="i" cx="787.4" cy="482.6" r="3.34"/>
<circle class="g" cx="548.5" cy="621.0" r="3.97"/>
<circle class="g" cx="360.4" cy="468.6" r="4.05"/>
<circle class="f" cx="784.6" cy="845.0" r="4.37"/>
<circle class="g" cx="525.8" cy="634.6" r="3.34"/>
<circle class="g" cx="546.5" cy="251.8" r="3.92"/>
<circle class="g" cx="561.8" cy="375.5" r="3.58"/>
<circle class="g m" cx="920.2" cy="165.6" r="5.70"/>
<circle class="g" cx="571.1" cy="400.5" r="4.43"/>
<circle class="f" cx="871.8" cy="846.1" r="3.35"/>
<circle class="g" cx="546.4" cy="291.7" r="3.96"/>
<circle class="g" cx="542.5" cy="359.3" r="4.53"/>
<circle class="g" cx="354.8" cy="415.6" r="4.10"/>
<circle class="f" cx="933.8" cy="763.1" r="3.66"/>
<circle class="g" cx="824.3" cy="110.1" r="4.57"/>
<circle class="g m" cx="727.1" cy="300.2" r="5.76"/>
<circle class="g" cx="644.0" cy="320.9" r="4.44"/>
<circle class="i" cx="825.7" cy="428.7" r="4.25"/>
<circle class="f" cx="1003.2" cy="665.8" r="4.37"/>
<circle class="g" cx="594.7" cy="284.7" r="4.31"/>
<circle class="g" cx="778.1" cy="213.6" r="4.34"/>
<circle class="g m" cx="668.7" cy="226.8" r="5.50"/>
<circle class="g" cx="509.0" cy="353.1" r="3.69"/>
<circle class="g" cx="626.7" cy="305.4" r="3.80"/>
<circle class="g" cx="579.0" cy="574.4" r="3.55"/>
<circle class="g" cx="623.2" cy="360.9" r="4.01"/>
<circle class="f" cx="928.5" cy="750.6" r="4.62"/>
<circle class="g" cx="776.0" cy="134.4" r="4.51"/>
<circle class="g" cx="690.0" cy="218.2" r="3.66"/>
<circle class="g" cx="485.2" cy="632.7" r="3.76"/>
<circle class="f" cx="729.4" cy="752.3" r="3.14"/>
<circle class="g" cx="420.7" cy="335.9" r="3.96"/>
<circle class="g" cx="714.9" cy="282.3" r="3.76"/>
<circle class="g" cx="466.0" cy="313.9" r="3.52"/>
<circle class="g" cx="662.5" cy="225.3" r="4.64"/>
<circle class="g" cx="639.6" cy="209.2" r="4.23"/>
<circle class="g" cx="634.0" cy="231.3" r="3.57"/>
<circle class="g" cx="601.7" cy="209.4" r="4.35"/>
<circle class="g" cx="641.8" cy="365.2" r="4.18"/>
<circle class="g" cx="607.4" cy="306.6" r="3.75"/>
<circle class="f" cx="733.8" cy="921.0" r="4.37"/>
<circle class="g" cx="689.1" cy="239.9" r="4.20"/>
<circle class="g" cx="430.0" cy="499.9" r="4.44"/>
<circle class="g" cx="950.4" cy="207.9" r="4.37"/>
<circle class="g" cx="459.4" cy="466.0" r="3.39"/>
<circle class="g" cx="677.6" cy="241.1" r="3.84"/>
<circle class="g" cx="668.9" cy="241.8" r="3.78"/>
<circle class="f" cx="867.9" cy="810.2" r="3.66"/>
<circle class="g" cx="525.6" cy="321.1" r="4.00"/>
<circle class="g" cx="526.0" cy="397.4" r="3.40"/>
<circle class="f" cx="772.7" cy="709.0" r="3.34"/>
<circle class="g" cx="586.0" cy="346.4" r="4.92"/>
<circle class="i" cx="830.9" cy="474.8" r="4.25"/>
<circle class="g" cx="698.2" cy="160.1" r="4.36"/>
<circle class="g" cx="393.3" cy="467.6" r="4.09"/>
<circle class="i" cx="847.8" cy="416.4" r="3.86"/>
<circle class="g" cx="524.3" cy="396.9" r="3.61"/>
<circle class="g" cx="285.4" cy="510.8" r="3.55"/>
<circle class="g" cx="531.8" cy="389.6" r="4.34"/>
<circle class="g" cx="523.9" cy="380.4" r="5.06"/>
<circle class="f" cx="851.5" cy="775.6" r="3.87"/>
<circle class="f" cx="970.9" cy="606.2" r="3.87"/>
<circle class="g" cx="558.1" cy="230.2" r="3.34"/>
<circle class="i m" cx="883.5" cy="459.9" r="5.30"/>
<circle class="g" cx="518.9" cy="371.7" r="4.07"/>
<circle class="g" cx="820.6" cy="162.1" r="4.31"/>
<circle class="g" cx="594.1" cy="221.2" r="4.08"/>
<circle class="g" cx="544.5" cy="390.7" r="4.21"/>
<circle class="g" cx="527.6" cy="259.4" r="4.03"/>
<circle class="g" cx="723.2" cy="207.8" r="4.11"/>
<circle class="g" cx="646.7" cy="288.6" r="4.02"/>
<circle class="g" cx="695.9" cy="216.9" r="4.08"/>
<circle class="g" cx="518.2" cy="334.4" r="3.63"/>
<circle class="g" cx="608.3" cy="263.2" r="4.12"/>
<circle class="g" cx="460.3" cy="375.7" r="4.01"/>
<circle class="g" cx="687.0" cy="227.7" r="3.68"/>
<circle class="g" cx="159.6" cy="720.4" r="3.34"/>
<circle class="g" cx="493.1" cy="414.8" r="4.14"/>
<circle class="g" cx="336.2" cy="570.4" r="3.13"/>
<circle class="g" cx="601.1" cy="207.0" r="3.70"/>
<circle class="g" cx="561.8" cy="353.1" r="3.87"/>
<circle class="f" cx="725.4" cy="947.1" r="3.76"/>
<circle class="g" cx="644.0" cy="332.9" r="4.34"/>
<circle class="f" cx="867.3" cy="815.9" r="3.87"/>
<circle class="g" cx="485.9" cy="356.9" r="4.42"/>
<circle class="g" cx="552.3" cy="265.2" r="3.91"/>
<circle class="g" cx="515.7" cy="413.4" r="4.49"/>
<circle class="g" cx="483.7" cy="377.5" r="3.92"/>
<circle class="f" cx="799.4" cy="881.0" r="3.13"/>
<circle class="f" cx="773.3" cy="615.2" r="3.34"/>
<circle class="g" cx="508.4" cy="354.6" r="3.71"/>
<circle class="g" cx="543.6" cy="306.2" r="4.04"/>
<circle class="g" cx="660.6" cy="253.5" r="4.63"/>
<circle class="g" cx="643.5" cy="270.3" r="4.13"/>
<circle class="g" cx="629.8" cy="301.2" r="4.19"/>
<circle class="g" cx="668.7" cy="232.1" r="3.69"/>
<circle class="g" cx="812.8" cy="225.9" r="4.05"/>
<circle class="g" cx="521.8" cy="292.6" r="4.24"/>
<circle class="g" cx="767.1" cy="80.3" r="4.57"/>
<circle class="g" cx="635.9" cy="244.2" r="4.06"/>
<circle class="g" cx="582.3" cy="258.3" r="3.92"/>
<circle class="g" cx="576.8" cy="343.6" r="3.44"/>
<circle class="g" cx="560.4" cy="333.4" r="4.11"/>
<circle class="g" cx="792.5" cy="231.9" r="4.18"/>
<circle class="g" cx="542.0" cy="311.3" r="5.17"/>
<circle class="f m" cx="768.0" cy="822.0" r="6.30"/>
<circle class="g" cx="611.3" cy="245.3" r="3.93"/>
<circle class="f" cx="843.1" cy="814.4" r="3.87"/>
<circle class="g" cx="542.9" cy="331.5" r="4.01"/>
<circle class="g" cx="537.4" cy="438.4" r="3.61"/>
<circle class="g" cx="723.7" cy="274.1" r="3.99"/>
<circle class="f" cx="838.3" cy="918.3" r="3.34"/>
<circle class="f" cx="755.9" cy="844.0" r="3.35"/>
<circle class="g" cx="570.2" cy="331.9" r="4.18"/>
<circle class="g" cx="676.8" cy="230.4" r="4.08"/>
<circle class="g" cx="530.5" cy="425.9" r="4.08"/>
<circle class="g" cx="467.1" cy="471.3" r="4.02"/>
<circle class="g m" cx="716.3" cy="157.1" r="5.84"/>
<circle class="f" cx="559.8" cy="976.0" r="3.34"/>
<circle class="g" cx="742.9" cy="268.8" r="3.89"/>
<circle class="f" cx="639.0" cy="855.2" r="2.92"/>
<circle class="g" cx="519.1" cy="382.9" r="4.74"/>
<circle class="g" cx="766.3" cy="232.7" r="3.80"/>
<circle class="g" cx="644.2" cy="555.8" r="3.34"/>
<circle class="g" cx="601.8" cy="335.7" r="4.54"/>
<circle class="i" cx="830.9" cy="427.4" r="3.86"/>
<circle class="g" cx="526.9" cy="321.0" r="3.62"/>
<circle class="g" cx="526.5" cy="441.8" r="4.36"/>
<circle class="f" cx="788.8" cy="934.2" r="3.34"/>
<circle class="g" cx="614.9" cy="212.4" r="3.99"/>
<circle class="g" cx="613.2" cy="445.1" r="3.91"/>
<circle class="f" cx="818.8" cy="707.9" r="3.97"/>
<circle class="g" cx="496.0" cy="342.6" r="4.49"/>
<circle class="g" cx="592.7" cy="385.7" r="3.78"/>
<circle class="g" cx="645.5" cy="462.2" r="3.65"/>
<circle class="g" cx="720.9" cy="140.1" r="4.60"/>
<circle class="g" cx="600.0" cy="277.5" r="4.63"/>
<circle class="g" cx="541.2" cy="343.8" r="3.89"/>
<circle class="g" cx="713.9" cy="241.8" r="4.28"/>
<circle class="g" cx="789.7" cy="181.7" r="4.53"/>
<circle class="g" cx="452.5" cy="318.4" r="4.65"/>
<circle class="g" cx="558.8" cy="343.1" r="4.21"/>
<circle class="g" cx="548.5" cy="350.4" r="3.71"/>
<circle class="g" cx="573.3" cy="653.1" r="3.76"/>
<circle class="g" cx="803.6" cy="143.6" r="4.47"/>
<circle class="f" cx="957.1" cy="763.5" r="4.37"/>
<circle class="g" cx="843.1" cy="155.2" r="3.97"/>
<circle class="g" cx="767.1" cy="134.6" r="3.94"/>
<circle class="f" cx="844.2" cy="852.9" r="3.66"/>
<circle class="g" cx="610.5" cy="471.4" r="4.40"/>
<circle class="g" cx="728.6" cy="209.8" r="3.91"/>
<circle class="f" cx="695.8" cy="767.2" r="3.45"/>
<circle class="i" cx="633.3" cy="586.2" r="3.34"/>
<circle class="f" cx="814.8" cy="845.5" r="2.83"/>
<circle class="g" cx="578.7" cy="328.0" r="3.69"/>
<circle class="g" cx="538.0" cy="376.6" r="3.88"/>
<circle class="g" cx="599.6" cy="225.2" r="4.16"/>
<circle class="g" cx="536.6" cy="352.0" r="4.83"/>
<circle class="g" cx="449.1" cy="450.7" r="4.48"/>
<circle class="f" cx="671.7" cy="885.6" r="3.97"/>
<circle class="g" cx="701.7" cy="155.7" r="4.32"/>
<circle class="g" cx="666.6" cy="215.7" r="3.47"/>
<circle class="g" cx="527.9" cy="287.6" r="4.61"/>
<circle class="g" cx="478.0" cy="295.6" r="3.86"/>
<circle class="g" cx="704.7" cy="179.5" r="4.56"/>
<circle class="g" cx="679.0" cy="215.6" r="4.42"/>
<circle class="g" cx="493.7" cy="458.5" r="4.80"/>
<circle class="g" cx="803.9" cy="164.6" r="5.20"/>
<circle class="g" cx="577.1" cy="276.9" r="3.62"/>
<circle class="g" cx="682.3" cy="201.6" r="3.96"/>
<circle class="g" cx="695.6" cy="206.9" r="4.73"/>
<circle class="g" cx="747.8" cy="180.9" r="4.17"/>
<circle class="g" cx="749.0" cy="186.2" r="4.40"/>
<circle class="g" cx="668.5" cy="233.5" r="4.35"/>
<circle class="g" cx="611.1" cy="205.7" r="4.14"/>
<circle class="g" cx="538.5" cy="350.1" r="3.81"/>
<circle class="g" cx="688.5" cy="302.7" r="3.89"/>
<circle class="g" cx="581.0" cy="300.3" r="3.69"/>
<circle class="f" cx="881.5" cy="887.9" r="4.17"/>
<circle class="g" cx="601.5" cy="246.9" r="3.67"/>
<circle class="g" cx="682.7" cy="287.8" r="4.45"/>
<circle class="g" cx="561.5" cy="296.0" r="3.69"/>
<circle class="g m" cx="710.7" cy="170.7" r="5.70"/>
<circle class="g" cx="440.3" cy="389.7" r="3.76"/>
<circle class="g" cx="518.0" cy="404.1" r="4.39"/>
<circle class="g" cx="687.7" cy="225.7" r="4.74"/>
<circle class="g m" cx="742.0" cy="150.8" r="5.78"/>
<circle class="g" cx="655.2" cy="228.2" r="3.57"/>
<circle class="f" cx="856.1" cy="713.6" r="3.35"/>
<circle class="g" cx="596.3" cy="211.5" r="4.38"/>
<circle class="f" cx="882.2" cy="698.0" r="3.87"/>
<circle class="g" cx="461.0" cy="701.7" r="3.76"/>
<circle class="g" cx="752.7" cy="203.3" r="4.04"/>
<circle class="g" cx="609.3" cy="304.1" r="4.08"/>
<circle class="f" cx="786.7" cy="786.7" r="3.87"/>
<circle class="g" cx="608.4" cy="241.4" r="3.76"/>
<circle class="i" cx="828.3" cy="480.0" r="4.25"/>
<circle class="g" cx="547.2" cy="293.5" r="4.08"/>
<circle class="g" cx="666.3" cy="203.3" r="3.63"/>
<circle class="g m" cx="696.2" cy="169.7" r="5.65"/>
<circle class="g" cx="515.8" cy="301.0" r="4.24"/>
<circle class="g" cx="564.9" cy="402.3" r="3.61"/>
<circle class="g" cx="427.4" cy="408.1" r="3.73"/>
<circle class="g" cx="536.2" cy="273.5" r="4.51"/>
<circle class="g" cx="641.1" cy="284.0" r="5.03"/>
<circle class="g" cx="601.8" cy="277.3" r="3.53"/>
<circle class="i" cx="811.8" cy="459.9" r="4.25"/>
<circle class="g" cx="597.6" cy="359.7" r="4.41"/>
<circle class="f" cx="937.4" cy="789.4" r="3.35"/>
<circle class="g" cx="490.8" cy="330.9" r="4.64"/>
<circle class="f" cx="927.5" cy="695.9" r="2.83"/>
<circle class="f m" cx="967.5" cy="618.8" r="5.66"/>
<circle class="g" cx="841.0" cy="133.3" r="3.55"/>
<circle class="f" cx="582.9" cy="886.2" r="3.13"/>
<circle class="g" cx="791.6" cy="225.0" r="3.72"/>
<circle class="g" cx="552.7" cy="383.6" r="3.65"/>
<circle class="g" cx="527.7" cy="371.2" r="5.10"/>
<circle class="g" cx="380.6" cy="556.7" r="4.70"/>
<circle class="g" cx="620.7" cy="233.7" r="3.82"/>
<circle class="g" cx="549.3" cy="385.3" r="4.32"/>
<circle class="f" cx="846.2" cy="736.0" r="3.03"/>
<circle class="g" cx="611.2" cy="208.1" r="3.65"/>
<circle class="g" cx="657.8" cy="332.5" r="3.98"/>
<circle class="f" cx="968.5" cy="661.1" r="3.35"/>
<circle class="g" cx="658.8" cy="202.9" r="3.74"/>
<circle class="g" cx="652.7" cy="204.4" r="4.40"/>
<circle class="f" cx="901.5" cy="583.2" r="4.08"/>
<circle class="f" cx="882.7" cy="863.0" r="3.35"/>
<circle class="g" cx="638.5" cy="196.2" r="4.92"/>
<circle class="g" cx="511.5" cy="382.3" r="3.77"/>
<circle class="g" cx="588.0" cy="327.3" r="3.88"/>
<circle class="g" cx="477.7" cy="407.8" r="3.71"/>
<circle class="f" cx="874.9" cy="701.1" r="3.66"/>
<circle class="g" cx="629.8" cy="262.0" r="4.33"/>
<circle class="g" cx="762.3" cy="94.5" r="4.78"/>
<circle class="g" cx="719.5" cy="233.8" r="3.73"/>
<circle class="g" cx="725.7" cy="249.9" r="3.73"/>
<circle class="i" cx="754.6" cy="508.8" r="3.55"/>
<circle class="g" cx="648.1" cy="206.0" r="3.82"/>
<circle class="g" cx="590.9" cy="352.3" r="3.75"/>
<circle class="g" cx="680.9" cy="266.8" r="3.85"/>
<circle class="g" cx="500.4" cy="244.2" r="4.37"/>
<circle class="f" cx="791.9" cy="786.1" r="3.35"/>
<circle class="g" cx="521.7" cy="377.0" r="3.66"/>
<circle class="g" cx="689.3" cy="267.1" r="4.05"/>
<circle class="g" cx="570.1" cy="260.3" r="4.02"/>
<circle class="g" cx="796.4" cy="78.1" r="4.57"/>
<circle class="g" cx="591.6" cy="279.2" r="4.03"/>
<circle class="g" cx="691.2" cy="289.0" r="4.57"/>
<circle class="g" cx="680.6" cy="226.1" r="4.61"/>
<circle class="g" cx="555.6" cy="384.8" r="3.60"/>
<circle class="g" cx="741.6" cy="396.9" r="4.20"/>
<circle class="g" cx="694.1" cy="331.5" r="3.61"/>
<circle class="g" cx="663.6" cy="204.5" r="3.68"/>
<circle class="g" cx="655.5" cy="237.5" r="4.79"/>
<circle class="g" cx="604.0" cy="315.1" r="3.69"/>
<circle class="g" cx="680.0" cy="247.5" r="4.04"/>
<circle class="g" cx="809.3" cy="264.5" r="4.12"/>
<circle class="g m" cx="652.2" cy="186.8" r="6.40"/>
<circle class="g" cx="618.8" cy="361.2" r="4.86"/>
<circle class="g" cx="699.3" cy="177.2" r="4.28"/>
<circle class="g" cx="640.4" cy="280.7" r="3.63"/>
<circle class="i" cx="821.2" cy="461.8" r="3.34"/>
<circle class="g" cx="726.2" cy="233.0" r="3.82"/>
<circle class="g" cx="753.5" cy="173.1" r="4.49"/>
<circle class="g" cx="571.9" cy="310.3" r="4.25"/>
<circle class="f" cx="733.1" cy="1036.7" r="3.13"/>
<circle class="g m" cx="668.2" cy="191.9" r="6.40"/>
<circle class="g" cx="655.3" cy="298.1" r="3.82"/>
<circle class="r" cx="575.8" cy="485.4" r="3.55"/>
<circle class="g" cx="728.7" cy="353.6" r="4.02"/>
<circle class="f b" cx="1044.6" cy="481.9" r="7.32"/>
<circle class="f" cx="834.8" cy="936.5" r="3.34"/>
<circle class="g" cx="713.6" cy="264.3" r="4.29"/>
<circle class="g" cx="561.9" cy="334.4" r="3.73"/>
<circle class="f" cx="839.8" cy="788.8" r="2.83"/>
<circle class="f" cx="1082.2" cy="592.7" r="4.81"/>
<circle class="g m" cx="702.8" cy="132.4" r="6.40"/>
<circle class="f" cx="617.7" cy="950.8" r="3.97"/>
<circle class="g" cx="620.7" cy="282.8" r="4.49"/>
<circle class="f" cx="910.8" cy="774.1" r="3.66"/>
<circle class="g" cx="715.3" cy="289.8" r="3.99"/>
<circle class="g" cx="643.9" cy="217.9" r="3.63"/>
<circle class="f" cx="950.0" cy="833.8" r="3.97"/>
<circle class="g" cx="635.8" cy="192.9" r="4.25"/>
<circle class="g b" cx="887.9" cy="106.2" r="7.73"/>
<circle class="f" cx="791.9" cy="823.6" r="3.35"/>
<circle class="g" cx="598.9" cy="335.4" r="4.10"/>
<circle class="g" cx="562.5" cy="306.8" r="3.72"/>
<circle class="f" cx="515.4" cy="1013.1" r="4.53"/>
<circle class="g" cx="471.4" cy="344.8" r="3.85"/>
<circle class="g" cx="505.0" cy="368.4" r="4.57"/>
<circle class="f" cx="878.5" cy="951.9" r="3.55"/>
<circle class="f" cx="891.6" cy="660.5" r="2.83"/>
<circle class="g" cx="653.0" cy="225.7" r="3.95"/>
<circle class="g" cx="587.0" cy="267.2" r="4.09"/>
<circle class="i" cx="860.2" cy="471.2" r="4.70"/>
<circle class="f" cx="802.3" cy="838.8" r="3.35"/>
<circle class="g" cx="611.5" cy="203.6" r="3.98"/>
<circle class="g" cx="576.8" cy="300.2" r="3.74"/>
<circle class="g" cx="548.4" cy="333.4" r="3.86"/>
<circle class="g" cx="361.2" cy="531.2" r="3.34"/>
<circle class="g" cx="658.4" cy="252.6" r="3.99"/>
<circle class="g" cx="648.7" cy="272.5" r="3.78"/>
<circle class="g" cx="745.2" cy="424.2" r="3.60"/>
<circle class="f" cx="994.9" cy="717.1" r="3.66"/>
<circle class="g" cx="487.2" cy="390.7" r="4.43"/>
<circle class="g" cx="554.7" cy="291.0" r="3.90"/>
<circle class="g" cx="677.0" cy="226.5" r="4.63"/>
<circle class="f" cx="969.2" cy="555.2" r="5.02"/>
<circle class="g" cx="576.9" cy="378.1" r="3.72"/>
<circle class="f" cx="969.9" cy="600.0" r="3.66"/>
<circle class="g" cx="595.6" cy="353.1" r="4.79"/>
<circle class="g" cx="677.4" cy="181.1" r="4.72"/>
<circle class="f" cx="834.2" cy="597.3" r="3.97"/>
<circle class="f" cx="944.2" cy="634.3" r="3.66"/>
<circle class="g" cx="696.1" cy="343.1" r="3.62"/>
<circle class="g" cx="499.3" cy="357.5" r="3.99"/>
<circle class="f" cx="1010.4" cy="515.0" r="4.38"/>
<circle class="g" cx="674.9" cy="208.8" r="3.92"/>
<circle class="g" cx="504.9" cy="329.2" r="3.55"/>
<circle class="g" cx="456.0" cy="665.8" r="3.34"/>
<circle class="i" cx="865.3" cy="407.3" r="3.86"/>
<circle class="g" cx="532.8" cy="352.4" r="3.87"/>
<circle class="g" cx="613.9" cy="228.0" r="4.19"/>
<circle class="g" cx="520.5" cy="351.0" r="4.20"/>
<circle class="g" cx="670.5" cy="287.3" r="3.80"/>
<circle class="g" cx="604.9" cy="331.7" r="3.75"/>
<circle class="f" cx="766.0" cy="937.7" r="3.34"/>
<circle class="g" cx="856.7" cy="164.6" r="4.87"/>
<circle class="g" cx="582.2" cy="283.3" r="4.26"/>
<circle class="f" cx="919.7" cy="596.8" r="3.66"/>
<circle class="f" cx="859.1" cy="844.3" r="3.66"/>
<circle class="g" cx="607.7" cy="563.1" r="3.55"/>
<circle class="g" cx="525.5" cy="325.9" r="4.36"/>
<circle class="g" cx="658.1" cy="280.2" r="4.51"/>
<circle class="g" cx="725.1" cy="294.4" r="4.86"/>
<circle class="f" cx="1086.7" cy="595.1" r="3.83"/>
<circle class="g" cx="461.1" cy="498.9" r="4.01"/>
<circle class="f" cx="824.7" cy="768.4" r="3.14"/>
<circle class="g" cx="540.3" cy="272.4" r="4.56"/>
<circle class="g" cx="668.6" cy="251.8" r="3.51"/>
<circle class="f" cx="1011.6" cy="646.9" r="3.35"/>
<circle class="g" cx="714.9" cy="189.8" r="4.35"/>
<circle class="g" cx="634.8" cy="180.7" r="4.05"/>
<circle class="g" cx="525.7" cy="437.9" r="3.61"/>
<circle class="g" cx="592.5" cy="299.2" r="3.78"/>
<circle class="f" cx="990.2" cy="648.1" r="3.35"/>
<circle class="f" cx="912.7" cy="613.2" r="4.37"/>
<circle class="g" cx="625.1" cy="290.8" r="3.82"/>
<circle class="g" cx="592.6" cy="360.9" r="4.38"/>
<circle class="g" cx="767.2" cy="165.9" r="3.85"/>
<circle class="g" cx="647.8" cy="377.4" r="3.67"/>
<circle class="g" cx="586.7" cy="412.4" r="4.41"/>
<circle class="g" cx="594.6" cy="256.1" r="4.07"/>
<circle class="g" cx="645.7" cy="286.4" r="3.78"/>
<circle class="g" cx="597.4" cy="261.5" r="4.64"/>
<circle class="g m" cx="807.3" cy="145.8" r="5.68"/>
<circle class="g" cx="468.0" cy="488.7" r="3.85"/>
<circle class="g" cx="587.6" cy="329.8" r="3.49"/>
<circle class="f" cx="860.3" cy="791.8" r="4.08"/>
<circle class="g m" cx="744.7" cy="74.8" r="5.89"/>
<circle class="g" cx="612.7" cy="315.6" r="4.03"/>
<circle class="g" cx="665.7" cy="260.1" r="3.75"/>
<circle class="g" cx="724.6" cy="233.5" r="4.52"/>
<circle class="g" cx="655.7" cy="282.7" r="5.06"/>
<circle class="g" cx="736.1" cy="210.6" r="4.04"/>
<circle class="f" cx="546.2" cy="912.3" r="3.13"/>
<circle class="g" cx="527.8" cy="271.9" r="4.25"/>
<circle class="f" cx="756.2" cy="923.1" r="3.13"/>
<circle class="f" cx="920.4" cy="886.7" r="3.34"/>
<circle class="g" cx="530.3" cy="317.7" r="3.87"/>
<circle class="f" cx="919.2" cy="591.0" r="4.08"/>
<circle class="f" cx="922.3" cy="666.8" r="3.66"/>
<circle class="g" cx="738.0" cy="440.9" r="3.94"/>
<circle class="g" cx="612.6" cy="232.8" r="3.95"/>
<circle class="g" cx="553.0" cy="301.1" r="4.33"/>
<circle class="g" cx="767.5" cy="263.7" r="3.96"/>
<circle class="g" cx="560.1" cy="321.5" r="3.67"/>
<circle class="g" cx="611.4" cy="250.1" r="3.90"/>
<circle class="g" cx="539.9" cy="327.2" r="3.92"/>
<circle class="g" cx="649.9" cy="258.4" r="4.86"/>
<circle class="g" cx="702.1" cy="322.6" r="3.43"/>
<circle class="f" cx="922.3" cy="846.7" r="3.35"/>
<circle class="g" cx="583.4" cy="344.7" r="4.41"/>
<circle class="g m" cx="771.3" cy="187.8" r="5.61"/>
<circle class="g" cx="653.6" cy="286.8" r="4.05"/>
<circle class="f m" cx="927.5" cy="635.4" r="5.66"/>
<circle class="g" cx="678.8" cy="216.5" r="3.81"/>
<circle class="g" cx="691.0" cy="214.1" r="4.19"/>
<circle class="f" cx="912.9" cy="838.3" r="3.35"/>
<circle class="g" cx="530.2" cy="327.3" r="4.42"/>
<circle class="g" cx="633.9" cy="270.7" r="4.55"/>
<circle class="g" cx="641.3" cy="249.5" r="4.36"/>
<circle class="g" cx="700.7" cy="238.9" r="3.70"/>
<circle class="g" cx="604.0" cy="259.1" r="3.84"/>
<circle class="f" cx="718.8" cy="892.5" r="3.55"/>
<circle class="g" cx="902.5" cy="144.2" r="4.87"/>
<circle class="g" cx="572.1" cy="285.5" r="3.63"/>
<circle class="f" cx="643.8" cy="1016.5" r="4.53"/>
<circle class="g" cx="600.6" cy="253.3" r="3.80"/>
<circle class="g" cx="518.7" cy="331.2" r="3.77"/>
<circle class="f m" cx="949.4" cy="626.0" r="5.66"/>
<circle class="f" cx="766.2" cy="672.3" r="3.34"/>
<circle class="f" cx="937.9" cy="724.1" r="3.66"/>
<circle class="g" cx="732.1" cy="228.0" r="4.12"/>
<circle class="f" cx="848.8" cy="880.0" r="2.92"/>
<circle class="g" cx="493.2" cy="302.2" r="4.14"/>
<circle class="g" cx="539.8" cy="332.6" r="3.84"/>
<circle class="f" cx="684.8" cy="983.5" r="4.53"/>
<circle class="g" cx="600.6" cy="242.2" r="3.56"/>
<circle class="f" cx="695.6" cy="942.9" r="3.55"/>
<circle class="g" cx="714.6" cy="265.8" r="3.66"/>
<circle class="g" cx="531.6" cy="365.6" r="3.65"/>
<circle class="f" cx="943.5" cy="783.8" r="4.87"/>
<circle class="g" cx="641.3" cy="258.5" r="4.08"/>
<circle class="f" cx="820.5" cy="819.0" r="3.03"/>
<circle class="f" cx="593.5" cy="908.1" r="3.34"/>
<circle class="g" cx="501.5" cy="584.8" r="4.17"/>
<circle class="g" cx="629.0" cy="193.2" r="4.11"/>
<circle class="g" cx="431.7" cy="518.1" r="3.76"/>
<circle class="g" cx="634.4" cy="393.5" r="4.86"/>
<circle class="g" cx="612.4" cy="242.3" r="3.82"/>
<circle class="g m" cx="704.5" cy="176.9" r="5.35"/>
<circle class="g" cx="694.1" cy="168.8" r="4.95"/>
<circle class="g" cx="387.3" cy="536.9" r="3.76"/>
<circle class="f" cx="880.1" cy="847.7" r="3.35"/>
<circle class="g" cx="564.1" cy="314.8" r="4.33"/>
<circle class="i" cx="780.5" cy="425.2" r="3.60"/>
<circle class="g" cx="580.4" cy="391.9" r="4.64"/>
<circle class="g" cx="621.8" cy="327.3" r="4.16"/>
<circle class="g" cx="677.7" cy="243.7" r="3.71"/>
<circle class="f" cx="1005.2" cy="888.1" r="3.34"/>
<circle class="g m" cx="887.9" cy="176.0" r="6.69"/>
<circle class="f" cx="960.8" cy="828.8" r="3.34"/>
<circle class="f" cx="760.1" cy="847.1" r="3.66"/>
<circle class="g" cx="761.7" cy="238.0" r="4.00"/>
<circle class="g m" cx="763.1" cy="174.8" r="5.76"/>
<circle class="g m" cx="482.4" cy="370.6" r="5.52"/>
<circle class="g" cx="536.8" cy="284.6" r="3.79"/>
<circle class="f" cx="648.3" cy="956.0" r="4.17"/>
<circle class="f" cx="862.5" cy="880.0" r="2.92"/>
<circle class="g" cx="645.9" cy="193.6" r="4.60"/>
<circle class="g" cx="500.2" cy="426.4" r="3.81"/>
<circle class="g" cx="559.1" cy="442.3" r="4.64"/>
<circle class="g" cx="505.3" cy="376.8" r="3.76"/>
<circle class="f" cx="581.2" cy="909.8" r="3.34"/>
<circle class="f" cx="705.4" cy="779.7" r="3.14"/>
<circle class="g" cx="605.8" cy="250.3" r="3.95"/>
<circle class="f" cx="797.1" cy="792.4" r="3.35"/>
<circle class="g" cx="688.1" cy="233.0" r="4.06"/>
<circle class="f" cx="672.7" cy="998.3" r="3.97"/>
<circle class="f" cx="783.5" cy="764.3" r="3.66"/>
<circle class="g" cx="787.4" cy="263.7" r="4.36"/>
<circle class="g" cx="454.6" cy="539.2" r="3.55"/>
<circle class="g" cx="662.5" cy="204.5" r="4.57"/>
<circle class="g" cx="576.4" cy="331.6" r="3.45"/>
<circle class="f" cx="797.6" cy="823.6" r="3.35"/>
<circle class="g" cx="815.0" cy="156.8" r="4.39"/>
<circle class="g" cx="709.6" cy="176.7" r="4.55"/>
<circle class="f" cx="889.5" cy="812.3" r="4.37"/>
<circle class="g" cx="575.9" cy="279.8" r="3.79"/>
<circle class="g" cx="528.9" cy="329.6" r="4.22"/>
<circle class="g m" cx="664.0" cy="180.9" r="5.38"/>
<circle class="f" cx="891.6" cy="699.1" r="3.66"/>
<circle class="g" cx="556.0" cy="318.5" r="4.45"/>
<circle class="f" cx="702.8" cy="836.1" r="3.66"/>
<circle class="g" cx="449.6" cy="433.9" r="3.68"/>
<circle class="g" cx="548.8" cy="313.6" r="3.76"/>
<circle class="g" cx="614.2" cy="236.7" r="4.06"/>
<circle class="g" cx="599.8" cy="255.3" r="3.53"/>
<circle class="g m" cx="748.8" cy="138.2" r="5.55"/>
<circle class="g" cx="799.0" cy="112.1" r="4.98"/>
<circle class="i" cx="744.9" cy="496.9" r="3.60"/>
<circle class="g m" cx="763.1" cy="162.9" r="5.61"/>
<circle class="i" cx="851.4" cy="412.5" r="3.86"/>
<circle class="g" cx="536.8" cy="258.7" r="4.31"/>
<circle class="g" cx="648.2" cy="210.2" r="3.69"/>
<circle class="g" cx="621.9" cy="521.5" r="3.55"/>
<circle class="g" cx="615.0" cy="643.5" r="3.34"/>
<circle class="g" cx="557.7" cy="361.2" r="3.88"/>
<circle class="g" cx="551.8" cy="326.0" r="3.86"/>
<circle class="f" cx="890.0" cy="744.4" r="3.66"/>
<circle class="g" cx="653.9" cy="192.8" r="4.21"/>
<circle class="f m" cx="1045.5" cy="622.0" r="5.39"/>
<circle class="g" cx="503.6" cy="345.9" r="3.62"/>
<circle class="g" cx="500.4" cy="374.7" r="4.20"/>
<circle class="g" cx="532.2" cy="364.4" r="4.20"/>
<circle class="f" cx="759.6" cy="795.5" r="3.03"/>
<circle class="g" cx="787.1" cy="191.4" r="3.95"/>
<circle class="i" cx="706.7" cy="327.5" r="3.76"/>
<circle class="g" cx="673.3" cy="184.1" r="4.85"/>
<circle class="g" cx="641.1" cy="236.5" r="3.87"/>
<circle class="g" cx="490.5" cy="315.4" r="3.53"/>
<circle class="g" cx="496.6" cy="345.5" r="3.78"/>
<circle class="g" cx="560.8" cy="265.2" r="4.03"/>
<circle class="f" cx="744.5" cy="853.3" r="3.03"/>
<circle class="g" cx="447.3" cy="318.5" r="4.50"/>
<circle class="g" cx="260.4" cy="660.6" r="3.55"/>
<circle class="g" cx="605.9" cy="347.8" r="4.38"/>
<circle class="g" cx="673.0" cy="186.0" r="4.59"/>
<circle class="g" cx="489.9" cy="419.6" r="4.09"/>
<circle class="g" cx="711.6" cy="219.1" r="3.90"/>
<circle class="g" cx="503.8" cy="315.5" r="3.58"/>
<circle class="g" cx="374.8" cy="624.0" r="3.97"/>
<circle class="g" cx="826.9" cy="203.2" r="3.76"/>
<circle class="g m" cx="751.0" cy="163.9" r="5.33"/>
<circle class="g" cx="763.9" cy="117.9" r="4.25"/>
<circle class="g" cx="482.5" cy="332.8" r="3.94"/>
<circle class="g" cx="633.2" cy="299.9" r="3.52"/>
<circle class="g" cx="663.4" cy="237.8" r="4.55"/>
<circle class="g" cx="770.2" cy="212.3" r="3.85"/>
<circle class="g" cx="714.1" cy="130.3" r="4.79"/>
<circle class="g" cx="631.6" cy="312.5" r="4.46"/>
<circle class="f" cx="963.6" cy="694.5" r="3.87"/>
<circle class="g" cx="526.3" cy="341.8" r="4.07"/>
<circle class="g" cx="603.5" cy="222.7" r="3.60"/>
<circle class="f" cx="954.6" cy="615.8" r="4.08"/>
<circle class="f" cx="861.4" cy="759.0" r="3.66"/>
<circle class="g" cx="539.9" cy="345.0" r="4.14"/>
<circle class="g m" cx="685.3" cy="188.2" r="5.54"/>
<circle class="g" cx="552.3" cy="312.5" r="4.30"/>
<circle class="g" cx="664.6" cy="172.4" r="5.01"/>
<circle class="f" cx="796.0" cy="815.8" r="4.37"/>
<circle class="g" cx="547.9" cy="311.7" r="4.03"/>
<circle class="g" cx="724.8" cy="160.2" r="4.08"/>
<circle class="f" cx="1017.8" cy="654.9" r="4.95"/>
<circle class="g" cx="513.7" cy="363.9" r="4.56"/>
<circle class="g" cx="434.2" cy="395.2" r="3.53"/>
<circle class="g" cx="624.8" cy="207.8" r="4.84"/>
<circle class="g m" cx="849.4" cy="69.8" r="5.37"/>
<circle class="g" cx="563.8" cy="329.5" r="4.44"/>
<circle class="g" cx="543.9" cy="335.1" r="3.78"/>
<circle class="g m" cx="736.8" cy="258.7" r="5.72"/>
<circle class="g m" cx="658.2" cy="168.8" r="5.56"/>
<circle class="i" cx="847.1" cy="452.7" r="3.60"/>
<circle class="f" cx="1077.6" cy="584.5" r="4.66"/>
<circle class="g" cx="478.3" cy="343.7" r="4.24"/>
<circle class="i" cx="801.0" cy="450.1" r="3.60"/>
<circle class="g" cx="800.8" cy="212.9" r="3.61"/>
<circle class="g" cx="675.7" cy="168.3" r="5.07"/>
<circle class="g" cx="537.1" cy="291.7" r="3.64"/>
<circle class="f" cx="798.8" cy="899.4" r="3.97"/>
<circle class="f" cx="611.0" cy="791.0" r="2.92"/>
<circle class="i" cx="756.7" cy="539.6" r="3.55"/>
<circle class="f m" cx="1005.6" cy="661.5" r="5.66"/>
<circle class="i" cx="660.8" cy="659.0" r="3.55"/>
<circle class="f" cx="823.3" cy="747.9" r="3.34"/>
<circle class="g" cx="564.6" cy="414.2" r="3.88"/>
<circle class="g" cx="740.7" cy="178.3" r="5.13"/>
<circle class="g" cx="734.8" cy="230.0" r="4.50"/>
<circle class="g" cx="562.0" cy="322.1" r="3.98"/>
<circle class="g" cx="614.5" cy="267.0" r="4.54"/>
<circle class="f" cx="835.6" cy="812.7" r="3.35"/>
<circle class="g" cx="766.2" cy="217.5" r="3.66"/>
<circle class="g" cx="392.3" cy="454.5" r="3.64"/>
<circle class="f" cx="703.9" cy="851.2" r="3.35"/>
<circle class="f" cx="871.8" cy="760.0" r="4.62"/>
<circle class="g" cx="498.0" cy="404.1" r="4.26"/>
<circle class="f" cx="948.3" cy="682.4" r="4.79"/>
<circle class="g m" cx="779.6" cy="219.2" r="5.30"/>
<circle class="g" cx="668.2" cy="256.5" r="3.91"/>
<circle class="f" cx="943.1" cy="591.6" r="3.35"/>
<circle class="g" cx="695.7" cy="222.1" r="3.67"/>
<circle class="g" cx="611.7" cy="250.5" r="4.52"/>
<circle class="g" cx="702.5" cy="241.6" r="4.36"/>
<circle class="i" cx="657.9" cy="541.0" r="3.34"/>
<circle class="g" cx="687.6" cy="286.6" r="3.74"/>
<circle class="g" cx="524.5" cy="374.6" r="4.04"/>
<circle class="g" cx="545.6" cy="422.4" r="4.41"/>
<circle class="g" cx="675.6" cy="240.5" r="4.36"/>
<circle class="g" cx="453.5" cy="620.0" r="3.55"/>
<circle class="f" cx="950.9" cy="718.3" r="3.35"/>
<circle class="g" cx="588.0" cy="287.1" r="3.52"/>
<circle class="g" cx="693.8" cy="180.1" r="4.89"/>
<circle class="g" cx="513.1" cy="337.3" r="3.62"/>
<circle class="g" cx="693.1" cy="229.4" r="4.50"/>
<circle class="g" cx="680.3" cy="193.7" r="4.33"/>
<circle class="g" cx="649.4" cy="259.5" r="3.78"/>
<circle class="i" cx="794.5" cy="481.9" r="3.86"/>
<circle class="g" cx="622.9" cy="225.4" r="4.57"/>
<circle class="f" cx="1022.5" cy="738.8" r="3.45"/>
<circle class="g" cx="605.4" cy="340.7" r="3.62"/>
<circle class="g" cx="488.3" cy="466.6" r="4.22"/>
<circle class="g" cx="502.3" cy="383.1" r="3.77"/>
<circle class="g" cx="645.2" cy="171.5" r="4.27"/>
<circle class="f" cx="905.6" cy="796.1" r="3.03"/>
<circle class="g" cx="695.6" cy="250.8" r="4.42"/>
<circle class="g m" cx="508.8" cy="350.5" r="5.62"/>
<circle class="g" cx="541.3" cy="333.8" r="3.92"/>
<circle class="g" cx="651.6" cy="257.7" r="3.50"/>
<circle class="f" cx="682.1" cy="678.3" r="3.55"/>
<circle class="g" cx="613.8" cy="338.4" r="3.81"/>
<circle class="g" cx="500.7" cy="478.6" r="3.73"/>
<circle class="f" cx="803.1" cy="908.1" r="3.97"/>
<circle class="f" cx="939.8" cy="608.2" r="3.87"/>
<circle class="g" cx="530.9" cy="271.3" r="3.90"/>
<circle class="i" cx="799.7" cy="459.9" r="4.25"/>
<circle class="g" cx="606.8" cy="474.3" r="3.57"/>
<circle class="g" cx="464.6" cy="292.1" r="3.97"/>
<circle class="g" cx="602.4" cy="276.6" r="3.70"/>
<circle class="g" cx="668.2" cy="258.8" r="4.06"/>
<circle class="f" cx="1009.2" cy="538.5" r="5.18"/>
<circle class="g" cx="683.2" cy="179.0" r="4.11"/>
<circle class="g" cx="569.0" cy="361.5" r="3.57"/>
<circle class="g" cx="345.2" cy="541.0" r="3.76"/>
<circle class="g" cx="721.9" cy="542.7" r="3.13"/>
<circle class="g" cx="623.9" cy="318.5" r="4.41"/>
<circle class="r" cx="620.6" cy="374.6" r="3.97"/>
<circle class="g" cx="593.8" cy="307.3" r="3.90"/>
<circle class="g" cx="632.9" cy="263.0" r="3.66"/>
<circle class="f" cx="925.9" cy="712.6" r="3.03"/>
<circle class="f" cx="813.2" cy="828.3" r="3.35"/>
<circle class="f" cx="948.3" cy="811.9" r="3.55"/>
<circle class="g" cx="581.9" cy="277.1" r="4.01"/>
<circle class="g" cx="593.0" cy="235.7" r="3.71"/>
<circle class="g" cx="693.0" cy="262.4" r="4.10"/>
<circle class="g" cx="594.6" cy="288.9" r="3.86"/>
<circle class="g" cx="588.3" cy="305.5" r="3.76"/>
<circle class="g" cx="584.5" cy="288.9" r="3.71"/>
<circle class="g" cx="455.0" cy="355.7" r="3.69"/>
<circle class="g" cx="634.8" cy="188.2" r="4.69"/>
<circle class="f" cx="923.9" cy="705.8" r="3.66"/>
<circle class="g" cx="475.2" cy="371.3" r="4.21"/>
<circle class="g" cx="676.6" cy="279.1" r="4.16"/>
<circle class="g" cx="766.6" cy="202.9" r="4.40"/>
<circle class="g" cx="618.4" cy="424.8" r="3.84"/>
<circle class="g" cx="702.6" cy="396.0" r="3.94"/>
<circle class="f" cx="876.5" cy="746.5" r="3.35"/>
<circle class="f" cx="813.8" cy="943.1" r="3.13"/>
<circle class="g" cx="609.1" cy="194.8" r="3.62"/>
<circle class="i m" cx="819.2" cy="444.9" r="5.89"/>
<circle class="g" cx="542.2" cy="280.4" r="3.77"/>
<circle class="f" cx="832.1" cy="568.1" r="3.55"/>
<circle class="g" cx="693.9" cy="427.8" r="4.25"/>
<circle class="g" cx="778.1" cy="129.1" r="4.35"/>
<circle class="g" cx="615.7" cy="309.0" r="3.59"/>
<circle class="g" cx="462.0" cy="342.8" r="4.02"/>
<circle class="g" cx="537.9" cy="362.0" r="4.06"/>
<circle class="g" cx="629.7" cy="366.2" r="4.37"/>
<circle class="g" cx="598.1" cy="338.2" r="3.54"/>
<circle class="g" cx="486.2" cy="427.6" r="3.73"/>
<circle class="g" cx="528.5" cy="394.2" r="3.78"/>
<circle class="g" cx="649.9" cy="200.4" r="3.58"/>
<circle class="g" cx="632.0" cy="303.4" r="3.65"/>
<circle class="f" cx="730.4" cy="805.4" r="3.87"/>
<circle class="g" cx="683.3" cy="251.0" r="4.83"/>
<circle class="g" cx="652.8" cy="160.5" r="4.67"/>
<circle class="r" cx="610.8" cy="392.7" r="3.76"/>
<circle class="f" cx="939.5" cy="590.2" r="4.08"/>
<circle class="g" cx="452.8" cy="474.9" r="4.15"/>
<circle class="g" cx="679.6" cy="221.8" r="3.46"/>
<circle class="f" cx="898.3" cy="706.4" r="3.03"/>
<circle class="g" cx="748.7" cy="278.8" r="3.68"/>
<circle class="g" cx="433.4" cy="430.7" r="3.88"/>
<circle class="g" cx="598.6" cy="218.5" r="4.05"/>
<circle class="g" cx="602.1" cy="339.0" r="4.22"/>
<circle class="g" cx="345.8" cy="523.3" r="3.76"/>
<circle class="g" cx="590.6" cy="276.7" r="4.06"/>
<circle class="f" cx="853.9" cy="581.1" r="3.66"/>
<circle class="g" cx="609.9" cy="439.4" r="3.69"/>
<circle class="g" cx="572.7" cy="271.5" r="3.78"/>
<circle class="g" cx="614.1" cy="287.2" r="4.11"/>
<circle class="g" cx="581.8" cy="365.8" r="4.02"/>
<circle class="g" cx="510.2" cy="277.7" r="4.13"/>
<circle class="g" cx="520.7" cy="437.5" r="3.64"/>
<circle class="g" cx="584.2" cy="570.4" r="3.34"/>
<circle class="g" cx="569.3" cy="267.5" r="4.64"/>
<circle class="g" cx="417.1" cy="412.3" r="4.52"/>
<circle class="g" cx="601.0" cy="271.0" r="4.09"/>
<circle class="f" cx="830.4" cy="786.7" r="3.03"/>
<circle class="f" cx="849.6" cy="859.7" r="3.14"/>
<circle class="g" cx="556.6" cy="321.8" r="3.82"/>
<circle class="g" cx="609.0" cy="263.7" r="3.63"/>
<circle class="f" cx="923.8" cy="916.7" r="3.55"/>
<circle class="g" cx="931.7" cy="49.6" r="4.87"/>
<circle class="g" cx="674.3" cy="267.9" r="4.63"/>
<circle class="g" cx="548.6" cy="350.3" r="4.13"/>
<circle class="g m" cx="750.5" cy="191.6" r="6.40"/>
<circle class="g" cx="775.1" cy="243.2" r="3.57"/>
<circle class="g" cx="679.5" cy="154.5" r="5.22"/>
<circle class="g" cx="643.2" cy="221.1" r="3.60"/>
<circle class="g" cx="610.1" cy="207.1" r="3.84"/>
<circle class="g" cx="651.8" cy="256.6" r="4.73"/>
<circle class="g m" cx="630.2" cy="194.7" r="5.67"/>
<circle class="g" cx="821.0" cy="123.8" r="3.86"/>
<circle class="g" cx="633.3" cy="286.6" r="4.20"/>
<circle class="g" cx="688.5" cy="470.3" r="4.10"/>
<circle class="g" cx="580.8" cy="409.1" r="4.18"/>
<circle class="g" cx="695.0" cy="221.0" r="4.41"/>
<circle class="g" cx="611.9" cy="264.8" r="3.78"/>
<circle class="g" cx="621.1" cy="244.8" r="4.43"/>
<circle class="i" cx="616.7" cy="526.2" r="3.76"/>
<circle class="g" cx="299.0" cy="532.9" r="3.55"/>
<circle class="g" cx="658.7" cy="272.5" r="3.90"/>
<circle class="f" cx="946.8" cy="725.1" r="3.03"/>
<circle class="f" cx="931.1" cy="775.1" r="3.35"/>
<circle class="g" cx="532.9" cy="461.5" r="4.97"/>
<circle class="g" cx="632.8" cy="219.3" r="3.93"/>
<circle class="g" cx="554.3" cy="309.0" r="3.82"/>
<circle class="g" cx="484.9" cy="482.5" r="3.71"/>
<circle class="g" cx="658.4" cy="185.6" r="4.40"/>
<circle class="g m" cx="792.6" cy="194.9" r="6.22"/>
<circle class="i" cx="781.6" cy="381.3" r="3.34"/>
<circle class="g" cx="632.8" cy="328.2" r="4.71"/>
<circle class="g" cx="637.7" cy="278.9" r="4.46"/>
<circle class="g" cx="446.4" cy="352.4" r="4.79"/>
<circle class="g" cx="460.3" cy="378.2" r="3.84"/>
<circle class="g" cx="562.8" cy="311.2" r="4.12"/>
<circle class="g" cx="681.4" cy="310.0" r="3.82"/>
<circle class="g" cx="575.4" cy="328.5" r="3.66"/>
<circle class="g" cx="688.1" cy="210.1" r="3.90"/>
<circle class="f m" cx="864.0" cy="731.0" r="5.66"/>
<circle class="g" cx="640.0" cy="503.8" r="3.76"/>
<circle class="g" cx="668.0" cy="229.6" r="4.43"/>
<circle class="f" cx="903.5" cy="807.6" r="3.66"/>
<circle class="g" cx="581.9" cy="279.2" r="3.94"/>
<circle class="g" cx="649.6" cy="275.0" r="4.68"/>
<circle class="f" cx="884.8" cy="692.3" r="3.66"/>
<circle class="g" cx="554.6" cy="449.3" r="4.37"/>
<circle class="f" cx="1078.5" cy="780.8" r="4.20"/>
<circle class="g" cx="582.7" cy="315.5" r="4.62"/>
<circle class="g" cx="610.2" cy="258.9" r="3.88"/>
<circle class="f" cx="891.9" cy="658.2" r="3.87"/>
<circle class="g" cx="548.4" cy="309.1" r="4.56"/>
<circle class="g" cx="574.5" cy="357.2" r="3.89"/>
<circle class="g" cx="740.0" cy="415.7" r="3.34"/>
<circle class="g" cx="681.1" cy="226.5" r="3.74"/>
<circle class="g" cx="541.2" cy="283.9" r="4.08"/>
<circle class="i" cx="886.1" cy="504.0" r="3.86"/>
<circle class="f" cx="935.3" cy="681.9" r="2.83"/>
<circle class="g" cx="576.6" cy="270.8" r="4.45"/>
<circle class="g" cx="603.9" cy="266.0" r="4.38"/>
<circle class="g" cx="534.7" cy="392.2" r="3.67"/>
<circle class="g" cx="666.7" cy="246.9" r="4.23"/>
<circle class="g" cx="594.7" cy="252.3" r="4.03"/>
<circle class="g" cx="402.2" cy="443.1" r="4.08"/>
<circle class="f" cx="687.9" cy="900.8" r="3.13"/>
<circle class="g" cx="641.4" cy="267.3" r="4.73"/>
<circle class="f" cx="928.8" cy="854.8" r="3.14"/>
<circle class="g" cx="634.1" cy="249.5" r="3.77"/>
<circle class="g" cx="671.8" cy="257.0" r="3.86"/>
<circle class="f" cx="906.7" cy="710.5" r="2.83"/>
<circle class="g" cx="661.0" cy="271.6" r="4.00"/>
<circle class="g" cx="682.4" cy="228.3" r="3.75"/>
<circle class="g" cx="571.1" cy="342.1" r="4.30"/>
<circle class="g" cx="398.7" cy="441.3" r="3.84"/>
<circle class="g" cx="548.3" cy="335.8" r="4.49"/>
<circle class="f" cx="896.8" cy="737.6" r="3.35"/>
<circle class="g m" cx="725.9" cy="140.6" r="6.13"/>
<circle class="f" cx="838.8" cy="808.5" r="4.79"/>
<circle class="g" cx="712.4" cy="270.8" r="3.84"/>
<circle class="g" cx="668.7" cy="212.6" r="3.95"/>
<circle class="g" cx="708.4" cy="180.9" r="3.95"/>
<circle class="g" cx="530.2" cy="369.9" r="4.00"/>
<circle class="g" cx="478.7" cy="372.8" r="3.86"/>
<circle class="g" cx="535.0" cy="397.8" r="3.99"/>
<circle class="g" cx="700.8" cy="263.0" r="4.77"/>
<circle class="f" cx="923.3" cy="675.6" r="4.95"/>
<circle class="f" cx="859.3" cy="857.1" r="3.55"/>
<circle class="g" cx="584.1" cy="315.7" r="4.65"/>
<circle class="g" cx="358.4" cy="388.2" r="4.54"/>
<circle class="g" cx="513.3" cy="388.7" r="3.55"/>
<circle class="f" cx="909.1" cy="575.2" r="3.87"/>
<circle class="g m" cx="483.7" cy="297.2" r="5.68"/>
<circle class="g" cx="603.5" cy="270.0" r="3.71"/>
<circle class="g" cx="599.7" cy="235.8" r="4.00"/>
<circle class="g" cx="606.7" cy="326.8" r="4.00"/>
<circle class="f" cx="908.8" cy="599.2" r="4.37"/>
<circle class="f" cx="939.0" cy="808.1" r="4.37"/>
<circle class="g" cx="579.0" cy="270.3" r="4.31"/>
<circle class="g" cx="706.1" cy="212.6" r="3.59"/>
<circle class="g" cx="660.6" cy="306.1" r="3.60"/>
<circle class="g" cx="485.4" cy="437.5" r="3.87"/>
<circle class="f" cx="700.2" cy="861.7" r="3.66"/>
<circle class="i m" cx="886.1" cy="405.3" r="5.69"/>
<circle class="g" cx="594.1" cy="326.5" r="4.68"/>
<circle class="g" cx="680.4" cy="163.3" r="4.55"/>
<circle class="f" cx="802.8" cy="803.9" r="4.95"/>
<circle class="g" cx="639.0" cy="285.8" r="3.80"/>
<circle class="i" cx="963.3" cy="347.1" r="3.34"/>
<circle class="i" cx="740.4" cy="508.8" r="3.97"/>
<circle class="g" cx="615.7" cy="200.8" r="4.33"/>
<circle class="g" cx="583.8" cy="305.4" r="4.45"/>
<circle class="g" cx="783.6" cy="209.2" r="4.07"/>
<circle class="g" cx="640.7" cy="247.3" r="3.54"/>
<circle class="g" cx="361.5" cy="520.8" r="3.76"/>
<circle class="g" cx="603.7" cy="206.5" r="4.05"/>
<circle class="g" cx="590.3" cy="447.0" r="3.91"/>
<circle class="f" cx="935.3" cy="819.1" r="3.87"/>
<circle class="g" cx="687.2" cy="283.4" r="4.16"/>
<circle class="g" cx="524.3" cy="412.8" r="4.51"/>
<circle class="g" cx="718.9" cy="231.3" r="5.18"/>
<circle class="g" cx="724.1" cy="251.4" r="3.70"/>
<circle class="g" cx="375.4" cy="400.9" r="3.69"/>
<circle class="f" cx="945.2" cy="661.6" r="4.37"/>
<circle class="g" cx="545.9" cy="341.7" r="4.38"/>
<circle class="g" cx="592.0" cy="364.1" r="4.56"/>
<circle class="f" cx="890.0" cy="772.0" r="4.08"/>
<circle class="g" cx="491.4" cy="439.0" r="4.28"/>
<circle class="g" cx="795.7" cy="117.9" r="4.25"/>
<circle class="g" cx="662.3" cy="282.6" r="3.68"/>
<circle class="g" cx="538.5" cy="364.8" r="4.02"/>
<circle class="g m" cx="800.9" cy="184.8" r="5.54"/>
<circle class="g" cx="573.0" cy="274.2" r="3.75"/>
<circle class="g" cx="678.5" cy="225.7" r="4.64"/>
<circle class="f" cx="747.6" cy="810.6" r="3.35"/>
<circle class="g" cx="707.2" cy="137.7" r="4.13"/>
<circle class="g" cx="725.0" cy="247.0" r="3.76"/>
<circle class="g" cx="619.3" cy="220.3" r="4.35"/>
<circle class="g" cx="440.1" cy="376.7" r="3.89"/>
<circle class="g" cx="623.8" cy="279.3" r="5.16"/>
<circle class="f" cx="973.3" cy="818.8" r="5.20"/>
<circle class="g" cx="573.7" cy="308.5" r="3.82"/>
<circle class="g b" cx="1009.8" cy="221.9" r="7.73"/>
<circle class="g" cx="822.8" cy="286.7" r="4.49"/>
<circle class="g" cx="498.9" cy="314.9" r="3.75"/>
<circle class="g" cx="611.6" cy="362.0" r="3.59"/>
<circle class="g" cx="551.5" cy="576.0" r="3.55"/>
<circle class="g" cx="718.5" cy="174.3" r="4.80"/>
<circle class="g" cx="682.4" cy="322.6" r="3.82"/>
<circle class="g" cx="606.5" cy="275.2" r="4.68"/>
<circle class="f" cx="608.5" cy="864.2" r="3.13"/>
<circle class="g" cx="673.5" cy="241.5" r="4.35"/>
<circle class="g" cx="624.6" cy="382.9" r="3.96"/>
<circle class="f" cx="983.1" cy="710.8" r="3.03"/>
<circle class="f" cx="891.0" cy="731.9" r="4.08"/>
<circle class="f" cx="854.4" cy="626.2" r="3.66"/>
<circle class="g" cx="548.9" cy="327.3" r="4.42"/>
<circle class="g" cx="517.9" cy="355.5" r="4.53"/>
<circle class="g" cx="531.8" cy="373.3" r="5.26"/>
<circle class="g" cx="678.3" cy="295.0" r="4.10"/>
<circle class="g" cx="495.8" cy="397.5" r="4.21"/>
<circle class="g" cx="362.7" cy="465.1" r="3.50"/>
<circle class="g" cx="839.9" cy="97.1" r="4.25"/>
<circle class="g m" cx="758.5" cy="164.5" r="6.40"/>
<circle class="f" cx="797.1" cy="838.8" r="3.35"/>
<circle class="f" cx="931.7" cy="802.4" r="3.66"/>
<circle class="g" cx="554.3" cy="272.1" r="3.71"/>
<circle class="f" cx="1019.4" cy="718.4" r="4.08"/>
<circle class="g" cx="729.9" cy="211.6" r="3.75"/>
<circle class="g" cx="550.7" cy="321.8" r="3.75"/>
<circle class="f" cx="889.0" cy="736.0" r="2.83"/>
<circle class="g" cx="470.1" cy="477.3" r="4.70"/>
<circle class="g" cx="640.1" cy="420.1" r="4.38"/>
<circle class="i" cx="831.7" cy="372.5" r="4.87"/>
<circle class="f" cx="753.1" cy="899.6" r="3.34"/>
<circle class="g" cx="748.0" cy="436.1" r="5.06"/>
<circle class="g" cx="644.1" cy="199.5" r="5.03"/>
<circle class="g m" cx="485.9" cy="300.0" r="5.40"/>
<circle class="g" cx="736.5" cy="286.9" r="4.28"/>
<circle class="g" cx="656.2" cy="269.0" r="4.26"/>
<circle class="g" cx="508.6" cy="283.3" r="4.15"/>
<circle class="f m" cx="1073.0" cy="627.5" r="7.28"/>
<circle class="g" cx="638.0" cy="226.1" r="3.68"/>
<circle class="f" cx="671.2" cy="763.8" r="3.66"/>
<circle class="g" cx="724.2" cy="193.8" r="4.40"/>
<circle class="g" cx="619.6" cy="218.4" r="4.55"/>
<circle class="g" cx="570.0" cy="271.3" r="3.84"/>
<circle class="g" cx="627.8" cy="351.9" r="4.64"/>
<circle class="g" cx="555.2" cy="386.0" r="3.92"/>
<circle class="g" cx="495.6" cy="419.1" r="4.40"/>
<circle class="g" cx="457.1" cy="577.5" r="3.76"/>
<circle class="g" cx="701.4" cy="220.1" r="3.56"/>
<circle class="i" cx="581.2" cy="614.0" r="3.34"/>
<circle class="g" cx="507.9" cy="277.7" r="4.70"/>
<circle class="f" cx="904.8" cy="828.1" r="3.35"/>
<circle class="g" cx="729.6" cy="287.4" r="4.48"/>
<circle class="g" cx="454.1" cy="350.4" r="3.83"/>
<circle class="f" cx="802.5" cy="899.8" r="3.55"/>
<circle class="f" cx="722.1" cy="820.5" r="3.66"/>
<circle class="f" cx="887.4" cy="629.8" r="4.37"/>
<circle class="f" cx="932.7" cy="742.8" r="4.37"/>
<circle class="f" cx="810.6" cy="778.3" r="3.35"/>
<circle class="g" cx="772.7" cy="493.0" r="4.17"/>
<circle class="g" cx="697.9" cy="320.7" r="3.67"/>
<circle class="f" cx="817.9" cy="848.1" r="2.83"/>
<circle class="g" cx="530.3" cy="329.0" r="3.69"/>
<circle class="f" cx="891.6" cy="774.6" r="3.87"/>
<circle class="f" cx="1007.7" cy="753.8" r="3.76"/>
<circle class="g m" cx="663.0" cy="161.7" r="5.58"/>
<circle class="g" cx="429.3" cy="364.5" r="4.69"/>
<circle class="g" cx="649.7" cy="270.5" r="3.73"/>
<circle class="g" cx="654.0" cy="236.4" r="4.02"/>
<circle class="g" cx="565.6" cy="330.2" r="4.21"/>
<circle class="g" cx="673.6" cy="254.1" r="4.33"/>
<circle class="g" cx="583.5" cy="344.9" r="3.93"/>
<circle class="g" cx="819.0" cy="341.5" r="3.87"/>
<circle class="g" cx="686.3" cy="241.6" r="4.02"/>
<circle class="g" cx="700.3" cy="181.2" r="4.61"/>
<circle class="g m" cx="541.7" cy="324.9" r="5.51"/>
<circle class="g" cx="655.3" cy="166.8" r="3.93"/>
<circle class="g" cx="638.2" cy="216.6" r="3.94"/>
<circle class="g" cx="646.1" cy="174.7" r="4.17"/>
<circle class="f" cx="791.9" cy="764.8" r="3.35"/>
<circle class="f" cx="885.8" cy="810.7" r="3.35"/>
<circle class="g" cx="710.0" cy="165.9" r="4.75"/>
<circle class="g" cx="705.9" cy="451.8" r="3.77"/>
<circle class="f" cx="961.0" cy="669.5" r="4.37"/>
<circle class="f" cx="610.8" cy="970.4" r="4.53"/>
<circle class="g" cx="529.3" cy="254.4" r="3.64"/>
<circle class="f" cx="768.5" cy="725.6" r="3.13"/>
<circle class="f m" cx="695.2" cy="853.5" r="5.66"/>
<circle class="g" cx="766.9" cy="380.0" r="4.65"/>
<circle class="g" cx="636.0" cy="193.3" r="4.21"/>
<circle class="g" cx="666.9" cy="187.1" r="4.21"/>
<circle class="g" cx="743.1" cy="220.8" r="4.39"/>
<circle class="f" cx="863.1" cy="575.4" r="4.18"/>
<circle class="g" cx="658.7" cy="251.3" r="4.27"/>
<circle class="f" cx="1006.0" cy="759.4" r="3.34"/>
<circle class="g m" cx="632.8" cy="215.5" r="6.14"/>
<circle class="g" cx="635.1" cy="302.0" r="3.87"/>
<circle class="g" cx="656.8" cy="329.7" r="4.83"/>
<circle class="f" cx="877.3" cy="805.0" r="3.66"/>
<circle class="g" cx="713.7" cy="258.9" r="4.03"/>
<circle class="f" cx="990.4" cy="776.7" r="4.37"/>
<circle class="f" cx="605.6" cy="1079.8" r="3.76"/>
<circle class="g" cx="820.2" cy="229.5" r="3.71"/>
<circle class="f" cx="982.3" cy="816.0" r="2.72"/>
<circle class="g" cx="677.1" cy="223.6" r="4.05"/>
<circle class="g" cx="641.6" cy="250.7" r="3.72"/>
<circle class="g" cx="672.5" cy="257.4" r="4.06"/>
<circle class="g" cx="597.5" cy="243.8" r="4.01"/>
<circle class="f" cx="908.2" cy="760.5" r="3.35"/>
<circle class="g" cx="562.9" cy="288.7" r="4.14"/>
<circle class="g m" cx="604.5" cy="227.7" r="5.81"/>
<circle class="g" cx="699.2" cy="403.2" r="3.85"/>
<circle class="f" cx="810.6" cy="798.1" r="3.35"/>
<circle class="g" cx="623.3" cy="247.2" r="3.55"/>
<circle class="f" cx="1025.8" cy="587.0" r="3.66"/>
<circle class="i" cx="771.2" cy="389.1" r="4.25"/>
<circle class="i" cx="864.7" cy="433.0" r="4.57"/>
<circle class="f" cx="985.5" cy="605.2" r="4.37"/>
<circle class="g" cx="702.3" cy="233.4" r="4.37"/>
<circle class="g" cx="546.9" cy="551.7" r="3.76"/>
<circle class="g" cx="437.5" cy="609.4" r="3.55"/>
<circle class="g" cx="350.1" cy="450.4" r="4.38"/>
<circle class="g" cx="770.1" cy="172.1" r="4.41"/>
<circle class="g" cx="618.7" cy="230.0" r="3.68"/>
<circle class="g" cx="511.5" cy="296.3" r="4.16"/>
<circle class="i" cx="754.0" cy="506.2" r="4.17"/>
<circle class="g" cx="560.4" cy="339.7" r="3.80"/>
<circle class="g" cx="485.5" cy="350.9" r="3.96"/>
<circle class="f" cx="898.9" cy="690.2" r="3.35"/>
<circle class="f" cx="820.0" cy="843.4" r="4.08"/>
<circle class="g" cx="747.8" cy="217.9" r="3.71"/>
<circle class="f" cx="985.8" cy="839.6" r="3.55"/>
<circle class="g m" cx="763.2" cy="110.8" r="5.69"/>
<circle class="g" cx="652.0" cy="413.5" r="4.01"/>
<circle class="g" cx="724.0" cy="219.7" r="3.57"/>
<circle class="g" cx="592.5" cy="240.7" r="3.89"/>
<circle class="g" cx="637.0" cy="317.3" r="4.74"/>
<circle class="f" cx="1036.6" cy="645.0" r="3.35"/>
<circle class="g" cx="837.4" cy="194.5" r="5.05"/>
<circle class="g" cx="575.3" cy="411.8" r="4.07"/>
<circle class="g" cx="519.8" cy="356.8" r="4.59"/>
<circle class="g" cx="706.3" cy="221.4" r="4.19"/>
<circle class="g" cx="477.4" cy="441.0" r="4.30"/>
<circle class="g" cx="659.1" cy="199.7" r="3.99"/>
<circle class="g" cx="554.8" cy="364.0" r="3.60"/>
<circle class="f" cx="863.4" cy="657.2" r="3.87"/>
<circle class="g" cx="658.7" cy="257.0" r="3.58"/>
<circle class="g" cx="535.7" cy="277.0" r="3.78"/>
<circle class="f" cx="879.6" cy="737.1" r="3.87"/>
<circle class="g" cx="612.7" cy="284.8" r="3.70"/>
<circle class="g" cx="483.3" cy="450.9" r="4.23"/>
<circle class="g" cx="526.2" cy="459.7" r="4.00"/>
<circle class="g" cx="460.3" cy="468.0" r="3.75"/>
<circle class="g" cx="653.1" cy="204.1" r="4.78"/>
<circle class="f" cx="800.7" cy="762.7" r="3.14"/>
<circle class="g" cx="688.9" cy="253.8" r="3.82"/>
<circle class="f" cx="852.0" cy="632.2" r="3.66"/>
<circle class="g" cx="747.1" cy="292.0" r="3.77"/>
<circle class="g" cx="682.7" cy="299.0" r="3.91"/>
<circle class="f" cx="805.9" cy="841.4" r="3.03"/>
<circle class="g" cx="603.4" cy="237.1" r="3.61"/>
<circle class="g" cx="624.9" cy="199.2" r="4.12"/>
<circle class="g" cx="793.1" cy="312.3" r="4.03"/>
<circle class="g m" cx="732.3" cy="167.5" r="5.71"/>
<circle class="f" cx="552.3" cy="818.1" r="3.13"/>
<circle class="g" cx="735.2" cy="380.5" r="3.52"/>
<circle class="g" cx="637.8" cy="223.6" r="4.07"/>
<circle class="g" cx="594.1" cy="230.4" r="3.45"/>
<circle class="g" cx="440.7" cy="345.6" r="3.83"/>
<circle class="g" cx="536.1" cy="330.3" r="3.53"/>
<circle class="f" cx="910.8" cy="734.5" r="3.66"/>
<circle class="f" cx="966.5" cy="701.2" r="3.66"/>
<circle class="f" cx="945.2" cy="744.4" r="3.87"/>
<circle class="g" cx="541.5" cy="328.8" r="3.96"/>
<circle class="g" cx="596.5" cy="292.5" r="3.81"/>
<circle class="g" cx="642.4" cy="282.4" r="3.98"/>
<circle class="g" cx="764.4" cy="201.4" r="3.57"/>
<circle class="g" cx="557.6" cy="285.4" r="4.26"/>
<circle class="g" cx="617.7" cy="425.1" r="3.97"/>
<circle class="g m" cx="672.0" cy="178.2" r="6.40"/>
<circle class="g" cx="137.9" cy="709.0" r="4.17"/>
<circle class="g" cx="598.9" cy="230.2" r="3.98"/>
<circle class="g" cx="683.9" cy="271.5" r="3.98"/>
<circle class="f" cx="1081.2" cy="582.6" r="3.47"/>
<circle class="g" cx="749.4" cy="258.6" r="3.49"/>
<circle class="g" cx="583.8" cy="241.7" r="3.97"/>
<circle class="i" cx="838.1" cy="383.2" r="3.60"/>
<circle class="f" cx="813.2" cy="820.5" r="3.66"/>
<circle class="g" cx="472.6" cy="349.3" r="3.90"/>
<circle class="g" cx="666.9" cy="255.1" r="3.45"/>
<circle class="g" cx="743.6" cy="132.1" r="3.88"/>
<circle class="g" cx="766.2" cy="158.6" r="4.92"/>
<circle class="g" cx="667.1" cy="348.7" r="4.32"/>
<circle class="g" cx="645.8" cy="215.4" r="4.73"/>
<circle class="g" cx="531.8" cy="386.6" r="3.64"/>
<circle class="g" cx="616.4" cy="206.2" r="3.72"/>
<circle class="g" cx="828.8" cy="117.9" r="4.25"/>
<circle class="g" cx="577.1" cy="373.2" r="3.96"/>
<circle class="r" cx="575.4" cy="351.0" r="3.55"/>
<circle class="g" cx="574.8" cy="257.2" r="3.74"/>
<circle class="g" cx="673.5" cy="254.1" r="4.43"/>
<circle class="g" cx="602.6" cy="435.3" r="3.69"/>
<circle class="g" cx="635.6" cy="184.1" r="3.73"/>
<circle class="g" cx="658.7" cy="382.0" r="3.99"/>
<circle class="f" cx="841.0" cy="738.1" r="3.87"/>
<circle class="g" cx="671.4" cy="251.7" r="3.97"/>
<circle class="g" cx="485.0" cy="415.8" r="3.56"/>
<circle class="f" cx="1101.0" cy="689.3" r="4.02"/>
<circle class="g" cx="645.2" cy="433.7" r="4.61"/>
<circle class="f" cx="618.5" cy="747.9" r="3.76"/>
<circle class="g" cx="498.0" cy="324.7" r="3.83"/>
<circle class="g" cx="696.2" cy="229.1" r="3.55"/>
<circle class="f m" cx="757.7" cy="907.1" r="5.53"/>
<circle class="f" cx="934.3" cy="650.9" r="3.87"/>
<circle class="f" cx="890.0" cy="614.8" r="4.08"/>
<circle class="g" cx="619.7" cy="198.8" r="4.34"/>
<circle class="f" cx="687.3" cy="1000.8" r="3.34"/>
<circle class="f" cx="554.2" cy="977.9" r="4.17"/>
<circle class="g" cx="467.1" cy="328.2" r="3.97"/>
<circle class="i" cx="770.8" cy="514.0" r="4.53"/>
<circle class="g" cx="928.5" cy="194.2" r="5.20"/>
<circle class="g" cx="517.6" cy="394.2" r="3.53"/>
<circle class="g" cx="489.3" cy="345.5" r="3.60"/>
<circle class="f" cx="710.1" cy="816.9" r="3.14"/>
<circle class="g" cx="654.6" cy="286.4" r="4.00"/>
<circle class="g" cx="670.7" cy="174.2" r="3.94"/>
<circle class="g" cx="560.0" cy="318.9" r="4.49"/>
<circle class="g" cx="649.0" cy="228.2" r="4.40"/>
<circle class="g" cx="767.5" cy="143.0" r="4.90"/>
<circle class="g" cx="601.8" cy="238.0" r="3.58"/>
<circle class="g" cx="721.9" cy="221.7" r="3.55"/>
<circle class="g" cx="645.6" cy="258.1" r="4.25"/>
<circle class="g" cx="655.9" cy="191.1" r="4.78"/>
<circle class="g" cx="547.2" cy="265.6" r="4.02"/>
<circle class="i" cx="906.2" cy="380.2" r="4.70"/>
<circle class="g" cx="775.4" cy="149.4" r="5.12"/>
<circle class="g" cx="698.3" cy="201.8" r="3.62"/>
<circle class="g" cx="462.2" cy="388.0" r="4.04"/>
<circle class="g" cx="573.7" cy="272.7" r="4.47"/>
<circle class="f" cx="739.3" cy="858.5" r="3.35"/>
<circle class="g" cx="419.4" cy="472.2" r="3.97"/>
<circle class="g" cx="565.5" cy="253.3" r="3.56"/>
<circle class="g" cx="679.3" cy="197.1" r="4.41"/>
<circle class="g" cx="543.3" cy="324.3" r="4.66"/>
<circle class="g" cx="616.5" cy="290.4" r="3.80"/>
<circle class="g" cx="610.5" cy="269.6" r="3.82"/>
<circle class="g" cx="525.6" cy="398.6" r="3.73"/>
<circle class="g m" cx="693.8" cy="161.2" r="6.26"/>
<circle class="g" cx="621.9" cy="247.7" r="4.53"/>
<circle class="g" cx="584.3" cy="288.3" r="3.83"/>
<circle class="g" cx="625.9" cy="312.3" r="3.61"/>
<circle class="f" cx="804.9" cy="866.4" r="3.35"/>
<circle class="f" cx="940.0" cy="716.2" r="3.35"/>
<circle class="f" cx="745.2" cy="946.0" r="3.55"/>
<circle class="f" cx="878.0" cy="694.9" r="2.83"/>
<circle class="i" cx="810.8" cy="433.2" r="4.25"/>
<circle class="g" cx="624.6" cy="189.7" r="5.26"/>
<circle class="g" cx="487.1" cy="329.6" r="4.26"/>
<circle class="g" cx="773.7" cy="241.1" r="4.34"/>
<circle class="f" cx="899.9" cy="715.7" r="3.03"/>
<circle class="g" cx="424.4" cy="375.4" r="3.95"/>
<circle class="g" cx="528.5" cy="399.7" r="3.93"/>
<circle class="i" cx="866.5" cy="466.2" r="3.97"/>
<circle class="g" cx="606.7" cy="348.1" r="4.03"/>
<circle class="g" cx="501.0" cy="434.2" r="4.06"/>
<circle class="g" cx="587.8" cy="357.7" r="4.60"/>
<circle class="f" cx="872.8" cy="711.0" r="3.03"/>
<circle class="g" cx="759.2" cy="232.0" r="4.50"/>
<circle class="f" cx="698.1" cy="840.3" r="3.35"/>
<circle class="g" cx="747.8" cy="236.7" r="3.88"/>
<circle class="g" cx="733.7" cy="250.7" r="4.06"/>
<circle class="g" cx="648.4" cy="263.7" r="4.07"/>
<circle class="g" cx="748.8" cy="185.4" r="4.14"/>
<circle class="g" cx="696.3" cy="239.7" r="4.15"/>
<circle class="f" cx="627.7" cy="920.8" r="3.13"/>
<circle class="g" cx="968.1" cy="162.5" r="3.97"/>
<circle class="g" cx="618.8" cy="280.7" r="4.07"/>
<circle class="g" cx="566.6" cy="272.2" r="3.92"/>
<circle class="g" cx="717.7" cy="335.2" r="4.68"/>
<circle class="f" cx="927.0" cy="631.1" r="4.37"/>
<circle class="g m" cx="882.7" cy="133.3" r="6.27"/>
<circle class="g" cx="617.2" cy="222.3" r="3.55"/>
<circle class="g" cx="679.0" cy="150.4" r="4.51"/>
<circle class="g m" cx="751.3" cy="193.3" r="5.60"/>
<circle class="f" cx="650.4" cy="1017.7" r="4.17"/>
<circle class="g" cx="786.5" cy="191.5" r="4.17"/>
<circle class="f" cx="575.6" cy="1035.2" r="3.97"/>
<circle class="g" cx="539.4" cy="313.6" r="4.10"/>
<circle class="g" cx="482.8" cy="399.6" r="3.76"/>
<circle class="f" cx="821.0" cy="809.6" r="3.87"/>
<circle class="f" cx="881.7" cy="734.5" r="4.62"/>
<circle class="g" cx="562.8" cy="325.5" r="4.29"/>
<circle class="g" cx="607.9" cy="300.3" r="4.46"/>
<circle class="f" cx="937.9" cy="713.1" r="4.79"/>
<circle class="f" cx="912.9" cy="784.2" r="4.37"/>
<circle class="g" cx="630.7" cy="291.1" r="3.62"/>
<circle class="g" cx="514.5" cy="420.6" r="4.23"/>
<circle class="g" cx="572.1" cy="254.2" r="3.87"/>
<circle class="g" cx="545.4" cy="440.3" r="3.87"/>
<circle class="f" cx="749.7" cy="785.1" r="2.62"/>
<circle class="g" cx="685.8" cy="250.8" r="4.80"/>
<circle class="g" cx="479.6" cy="417.9" r="3.90"/>
<circle class="g" cx="723.6" cy="424.4" r="4.09"/>
<circle class="g" cx="587.1" cy="342.8" r="4.97"/>
<circle class="g" cx="518.3" cy="280.4" r="3.70"/>
<circle class="i" cx="810.4" cy="335.4" r="3.55"/>
<circle class="f" cx="763.2" cy="862.2" r="3.14"/>
<circle class="g" cx="611.9" cy="239.6" r="4.34"/>
<circle class="i" cx="628.5" cy="472.9" r="2.92"/>
<circle class="g" cx="542.0" cy="339.9" r="3.63"/>
<circle class="g" cx="422.9" cy="407.0" r="3.57"/>
<circle class="g" cx="447.8" cy="432.6" r="3.99"/>
<circle class="g m" cx="785.3" cy="87.4" r="5.89"/>
<circle class="f" cx="1024.4" cy="782.3" r="3.76"/>
<circle class="f" cx="829.8" cy="658.3" r="3.34"/>
<circle class="g" cx="581.7" cy="383.8" r="3.89"/>
<circle class="g" cx="632.0" cy="253.5" r="4.40"/>
<circle class="f" cx="538.1" cy="1059.6" r="3.13"/>
<circle class="g" cx="677.1" cy="279.7" r="4.82"/>
<circle class="f" cx="842.1" cy="848.8" r="3.35"/>
<circle class="f" cx="889.8" cy="864.6" r="3.87"/>
<circle class="f" cx="754.4" cy="822.6" r="3.03"/>
<circle class="i" cx="820.5" cy="431.9" r="4.78"/>
<circle class="f" cx="875.9" cy="742.3" r="3.66"/>
<circle class="i" cx="799.1" cy="474.8" r="4.25"/>
<circle class="g" cx="693.2" cy="252.9" r="3.75"/>
<circle class="g" cx="526.4" cy="284.2" r="4.69"/>
<circle class="f" cx="1005.8" cy="686.1" r="4.08"/>
<circle class="g" cx="608.9" cy="225.4" r="3.81"/>
<circle class="g" cx="750.6" cy="246.2" r="3.68"/>
<circle class="g" cx="510.8" cy="410.2" r="4.43"/>
<circle class="g" cx="495.6" cy="379.0" r="3.97"/>
<circle class="g" cx="620.2" cy="267.0" r="4.03"/>
<circle class="f" cx="815.6" cy="884.6" r="3.55"/>
<circle class="i" cx="685.8" cy="412.5" r="4.70"/>
<circle class="g" cx="662.7" cy="209.5" r="3.65"/>
<circle class="g" cx="352.4" cy="398.1" r="3.87"/>
<circle class="g" cx="556.7" cy="412.8" r="3.62"/>
<circle class="g" cx="515.8" cy="401.7" r="4.78"/>
<circle class="f" cx="679.2" cy="949.2" r="3.97"/>
<circle class="g" cx="647.9" cy="263.1" r="3.96"/>
<circle class="g" cx="606.6" cy="219.2" r="3.53"/>
<circle class="g" cx="665.8" cy="183.1" r="4.17"/>
<circle class="g" cx="610.2" cy="317.2" r="4.34"/>
<circle class="g" cx="509.2" cy="406.7" r="3.72"/>
<circle class="g" cx="718.0" cy="191.5" r="5.14"/>
<circle class="g" cx="682.7" cy="224.5" r="3.81"/>
<circle class="g" cx="595.9" cy="324.6" r="4.18"/>
<circle class="g" cx="683.4" cy="467.8" r="4.13"/>
<circle class="f" cx="894.2" cy="782.9" r="2.83"/>
<circle class="g" cx="809.4" cy="148.4" r="4.75"/>
<circle class="g" cx="412.3" cy="535.4" r="4.37"/>
<circle class="g m" cx="674.3" cy="164.7" r="5.93"/>
<circle class="g" cx="746.0" cy="178.4" r="4.25"/>
<circle class="f" cx="865.0" cy="775.1" r="4.37"/>
<circle class="f" cx="856.1" cy="780.8" r="3.66"/>
<circle class="f" cx="724.2" cy="868.4" r="2.83"/>
<circle class="g" cx="810.0" cy="175.2" r="4.48"/>
<circle class="f" cx="788.5" cy="730.2" r="4.53"/>
<circle class="g" cx="667.7" cy="217.0" r="4.15"/>
<circle class="g" cx="299.4" cy="481.7" r="3.97"/>
<circle class="f" cx="814.0" cy="721.9" r="3.97"/>
<circle class="g" cx="578.3" cy="313.1" r="4.41"/>
<circle class="g" cx="679.8" cy="318.8" r="4.25"/>
<circle class="f" cx="782.5" cy="789.3" r="3.35"/>
<circle class="g" cx="611.6" cy="237.5" r="3.81"/>
<circle class="g" cx="719.2" cy="238.7" r="3.97"/>
<circle class="g" cx="569.9" cy="254.6" r="4.37"/>
<circle class="g" cx="561.9" cy="319.7" r="3.91"/>
<circle class="g" cx="612.2" cy="321.3" r="3.91"/>
<circle class="g" cx="661.0" cy="277.2" r="3.74"/>
<circle class="g" cx="782.0" cy="217.5" r="4.03"/>
<circle class="g" cx="630.9" cy="230.8" r="3.93"/>
<circle class="g m" cx="632.8" cy="273.9" r="5.49"/>
<circle class="g" cx="189.8" cy="617.1" r="4.53"/>
<circle class="g" cx="648.3" cy="259.8" r="4.31"/>
<circle class="g" cx="521.4" cy="376.5" r="4.24"/>
<circle class="g" cx="607.4" cy="211.9" r="4.08"/>
<circle class="f" cx="675.2" cy="1030.0" r="3.55"/>
<circle class="g" cx="770.4" cy="259.0" r="3.97"/>
<circle class="g" cx="607.3" cy="363.9" r="4.32"/>
<circle class="g" cx="484.1" cy="406.9" r="3.66"/>
<circle class="g" cx="671.7" cy="286.4" r="3.54"/>
<circle class="g" cx="824.0" cy="161.5" r="4.12"/>
<circle class="g" cx="702.6" cy="257.0" r="4.14"/>
<circle class="g" cx="641.2" cy="247.3" r="3.93"/>
<circle class="g" cx="633.5" cy="199.6" r="4.16"/>
<circle class="g" cx="468.0" cy="454.7" r="4.52"/>
<circle class="g" cx="725.4" cy="304.3" r="4.50"/>
<circle class="g" cx="708.7" cy="146.5" r="4.77"/>
<circle class="f" cx="801.8" cy="853.9" r="3.35"/>
<circle class="g" cx="609.6" cy="553.1" r="3.55"/>
<circle class="g" cx="713.9" cy="215.7" r="4.26"/>
<circle class="g" cx="655.0" cy="302.9" r="4.42"/>
<circle class="i m" cx="825.3" cy="434.2" r="6.54"/>
<circle class="f" cx="791.7" cy="735.0" r="3.13"/>
<circle class="g" cx="509.1" cy="421.9" r="4.09"/>
<circle class="f" cx="765.4" cy="713.1" r="4.37"/>
<circle class="g" cx="604.4" cy="347.8" r="3.95"/>
<circle class="g" cx="565.4" cy="526.7" r="4.53"/>
<circle class="g" cx="491.8" cy="309.6" r="3.95"/>
<circle class="g" cx="696.7" cy="248.2" r="3.47"/>
<circle class="g" cx="558.6" cy="312.0" r="3.77"/>
<circle class="g" cx="593.2" cy="350.8" r="4.00"/>
<circle class="g" cx="649.5" cy="236.1" r="4.24"/>
<circle class="f" cx="934.3" cy="797.7" r="4.08"/>
<circle class="g" cx="539.8" cy="375.4" r="4.82"/>
<circle class="g" cx="837.3" cy="162.8" r="5.10"/>
<circle class="g" cx="652.9" cy="241.6" r="3.80"/>
<circle class="f" cx="809.6" cy="786.7" r="3.66"/>
<circle class="g" cx="515.5" cy="329.5" r="3.59"/>
<circle class="g" cx="618.1" cy="364.7" r="3.57"/>
<circle class="g" cx="582.7" cy="232.3" r="4.87"/>
<circle class="f" cx="726.8" cy="849.7" r="3.35"/>
<circle class="g" cx="660.5" cy="169.3" r="4.57"/>
<circle class="g" cx="701.9" cy="243.8" r="3.64"/>
<circle class="f" cx="789.8" cy="846.6" r="4.62"/>
<circle class="i" cx="881.2" cy="365.8" r="3.97"/>
<circle class="f m" cx="1128.0" cy="648.1" r="5.54"/>
<circle class="f" cx="694.5" cy="840.8" r="3.66"/>
<circle class="g" cx="690.8" cy="441.2" r="4.57"/>
<circle class="g" cx="584.3" cy="270.6" r="4.95"/>
<circle class="i" cx="970.8" cy="382.5" r="3.55"/>
<circle class="f" cx="958.5" cy="582.0" r="4.18"/>
<circle class="i" cx="888.3" cy="336.5" r="3.34"/>
<circle class="g" cx="675.8" cy="241.4" r="4.43"/>
<circle class="g" cx="604.4" cy="341.6" r="4.07"/>
<circle class="f" cx="966.5" cy="734.6" r="4.08"/>
<circle class="i" cx="843.8" cy="281.7" r="3.55"/>
<circle class="f m" cx="1139.0" cy="579.3" r="6.00"/>
<circle class="i" cx="946.5" cy="528.3" r="3.20"/>
<circle class="g" cx="713.7" cy="259.1" r="4.12"/>
<circle class="f" cx="836.7" cy="791.4" r="3.87"/>
<circle class="g" cx="628.6" cy="475.7" r="3.62"/>
<circle class="g" cx="705.1" cy="253.4" r="4.75"/>
<circle class="g m" cx="681.6" cy="191.0" r="6.27"/>
<circle class="g" cx="722.4" cy="256.5" r="3.72"/>
<circle class="g" cx="846.2" cy="136.5" r="3.97"/>
<circle class="g" cx="753.0" cy="230.5" r="3.57"/>
<circle class="g" cx="673.4" cy="112.1" r="4.78"/>
<circle class="i" cx="788.7" cy="426.1" r="3.86"/>
<circle class="f" cx="962.5" cy="792.7" r="4.17"/>
<circle class="g" cx="804.2" cy="119.2" r="4.25"/>
<circle class="g" cx="466.1" cy="388.9" r="3.78"/>
<circle class="g" cx="394.4" cy="425.0" r="3.55"/>
<circle class="g" cx="674.4" cy="308.8" r="3.54"/>
<circle class="g" cx="537.2" cy="449.0" r="4.29"/>
<circle class="g" cx="379.6" cy="510.8" r="4.53"/>
<circle class="g" cx="467.1" cy="408.8" r="3.84"/>
<circle class="g" cx="628.9" cy="308.8" r="3.42"/>
<circle class="g" cx="790.7" cy="174.3" r="4.51"/>
<circle class="g" cx="622.7" cy="291.9" r="4.00"/>
<circle class="f" cx="924.4" cy="729.8" r="4.79"/>
<circle class="g" cx="651.3" cy="253.5" r="4.21"/>
<circle class="f" cx="766.4" cy="771.0" r="4.37"/>
<circle class="g" cx="759.1" cy="178.8" r="4.92"/>
<circle class="f" cx="948.3" cy="658.8" r="3.87"/>
<circle class="g" cx="637.0" cy="344.9" r="4.68"/>
<circle class="f" cx="786.7" cy="773.1" r="3.66"/>
<circle class="i" cx="640.2" cy="558.3" r="3.13"/>
<circle class="g" cx="672.2" cy="237.2" r="4.58"/>
<circle class="g" cx="674.3" cy="263.8" r="4.04"/>
<circle class="f" cx="837.2" cy="778.9" r="3.66"/>
<circle class="g" cx="621.7" cy="212.4" r="4.80"/>
<circle class="f" cx="849.6" cy="838.9" r="3.35"/>
<circle class="g" cx="569.6" cy="317.6" r="3.92"/>
<circle class="g" cx="678.8" cy="276.9" r="3.89"/>
<circle class="g" cx="676.5" cy="198.5" r="4.89"/>
<circle class="r" cx="640.6" cy="413.1" r="3.76"/>
<circle class="g" cx="566.9" cy="268.4" r="3.65"/>
<circle class="g" cx="678.1" cy="226.5" r="3.97"/>
<circle class="g" cx="497.8" cy="426.8" r="3.43"/>
<circle class="g" cx="698.8" cy="259.7" r="4.12"/>
<circle class="g" cx="517.3" cy="357.0" r="5.04"/>
<circle class="g" cx="651.7" cy="194.4" r="4.57"/>
<circle class="f" cx="829.9" cy="835.1" r="3.35"/>
<circle class="g" cx="634.3" cy="301.6" r="3.63"/>
<circle class="g" cx="604.7" cy="285.9" r="3.81"/>
<circle class="g" cx="560.2" cy="284.9" r="4.80"/>
<circle class="f" cx="1027.2" cy="646.6" r="4.08"/>
<circle class="g m" cx="837.9" cy="193.3" r="5.43"/>
<circle class="g" cx="538.5" cy="419.0" r="4.57"/>
<circle class="g" cx="622.2" cy="263.4" r="3.75"/>
<circle class="i" cx="850.4" cy="385.8" r="4.25"/>
<circle class="r" cx="810.8" cy="181.2" r="3.76"/>
<circle class="i" cx="951.9" cy="393.1" r="3.55"/>
<circle class="i" cx="863.4" cy="380.6" r="3.34"/>
<circle class="g" cx="656.3" cy="303.3" r="3.78"/>
<circle class="g" cx="631.5" cy="293.0" r="3.92"/>
<circle class="g" cx="562.9" cy="219.2" r="3.55"/>
<circle class="g" cx="643.1" cy="407.8" r="3.72"/>
<circle class="g" cx="448.4" cy="429.5" r="4.35"/>
<circle class="g" cx="749.7" cy="453.4" r="4.25"/>
<circle class="g m" cx="529.1" cy="463.9" r="5.61"/>
<circle class="f" cx="920.2" cy="820.1" r="4.37"/>
<circle class="f" cx="783.0" cy="776.2" r="3.14"/>
<circle class="g" cx="597.8" cy="271.9" r="4.40"/>
<circle class="g" cx="789.2" cy="179.3" r="5.13"/>
<circle class="g" cx="516.6" cy="338.6" r="4.10"/>
<circle class="g m" cx="721.2" cy="148.3" r="5.70"/>
<circle class="i" cx="860.8" cy="406.6" r="3.86"/>
<circle class="g" cx="358.0" cy="470.7" r="4.92"/>
<circle class="g" cx="513.3" cy="667.7" r="3.34"/>
<circle class="g" cx="520.0" cy="378.1" r="3.59"/>
<circle class="f" cx="768.5" cy="744.2" r="3.55"/>
<circle class="g" cx="596.9" cy="259.8" r="4.89"/>
<circle class="f m" cx="1055.6" cy="627.0" r="5.39"/>
<circle class="g" cx="558.0" cy="258.0" r="4.05"/>
<circle class="f" cx="1011.5" cy="866.7" r="3.55"/>
<circle class="f" cx="900.4" cy="731.9" r="3.87"/>
<circle class="g" cx="478.0" cy="490.5" r="4.88"/>
<circle class="f" cx="984.2" cy="674.7" r="4.37"/>
<circle class="g" cx="596.3" cy="243.4" r="3.66"/>
<circle class="g" cx="622.6" cy="296.9" r="4.44"/>
<circle class="g" cx="673.5" cy="301.5" r="4.32"/>
<circle class="f" cx="978.2" cy="736.1" r="4.08"/>
<circle class="g" cx="654.9" cy="287.1" r="4.98"/>
<circle class="f" cx="1040.0" cy="652.3" r="3.83"/>
<circle class="g" cx="714.6" cy="227.4" r="4.71"/>
<circle class="g" cx="599.6" cy="308.3" r="4.17"/>
<circle class="f m" cx="1045.5" cy="611.0" r="5.39"/>
<circle class="g" cx="632.8" cy="319.8" r="4.17"/>
<circle class="i" cx="816.6" cy="452.7" r="3.86"/>
<circle class="g" cx="606.0" cy="311.4" r="4.23"/>
<circle class="f" cx="832.7" cy="732.9" r="3.97"/>
<circle class="f" cx="882.7" cy="709.0" r="3.35"/>
<circle class="g" cx="731.8" cy="290.3" r="3.59"/>
<circle class="g" cx="639.8" cy="234.8" r="4.29"/>
<circle class="g" cx="710.8" cy="151.9" r="5.29"/>
<circle class="f" cx="943.1" cy="615.0" r="3.66"/>
<circle class="g" cx="726.5" cy="268.9" r="4.46"/>
<circle class="i" cx="705.0" cy="550.0" r="3.34"/>
<circle class="g" cx="627.2" cy="296.0" r="3.44"/>
<circle class="g" cx="545.5" cy="456.7" r="3.80"/>
<circle class="g" cx="778.1" cy="209.9" r="4.34"/>
<circle class="f" cx="857.2" cy="644.0" r="3.66"/>
<circle class="f" cx="705.6" cy="986.5" r="4.70"/>
<circle class="g" cx="502.7" cy="295.7" r="3.80"/>
<circle class="g" cx="610.4" cy="262.5" r="4.89"/>
<circle class="f" cx="736.9" cy="921.7" r="3.97"/>
<circle class="f" cx="881.3" cy="493.6" r="3.60"/>
<circle class="g" cx="482.0" cy="392.2" r="4.22"/>
<circle class="g" cx="696.0" cy="164.4" r="4.83"/>
<circle class="g" cx="500.5" cy="402.7" r="3.65"/>
<circle class="g" cx="831.7" cy="251.0" r="3.56"/>
<circle class="g" cx="566.6" cy="308.7" r="3.85"/>
<circle class="g" cx="621.7" cy="197.4" r="3.66"/>
<circle class="i" cx="875.7" cy="445.6" r="3.60"/>
<circle class="g" cx="456.8" cy="411.0" r="3.54"/>
<circle class="i" cx="819.2" cy="500.0" r="3.13"/>
<circle class="g" cx="607.0" cy="358.3" r="4.25"/>
<circle class="f" cx="722.1" cy="759.1" r="3.35"/>
<circle class="g" cx="539.2" cy="352.8" r="4.55"/>
<circle class="g" cx="666.2" cy="587.5" r="4.70"/>
<circle class="f" cx="977.2" cy="677.1" r="3.35"/>
<circle class="g" cx="640.7" cy="208.2" r="4.13"/>
<circle class="f" cx="854.1" cy="757.4" r="3.03"/>
<circle class="g" cx="558.0" cy="363.6" r="4.27"/>
<circle class="g" cx="608.6" cy="255.4" r="4.51"/>
<circle class="g" cx="453.3" cy="328.6" r="3.61"/>
<circle class="g" cx="570.8" cy="332.3" r="4.41"/>
<circle class="g" cx="768.9" cy="176.3" r="4.06"/>
<circle class="f" cx="995.4" cy="619.8" r="3.87"/>
<circle class="f" cx="974.4" cy="565.2" r="4.00"/>
<circle class="g" cx="773.0" cy="145.4" r="5.10"/>
<circle class="g m" cx="867.1" cy="127.1" r="5.70"/>
<circle class="g" cx="527.5" cy="284.5" r="3.86"/>
<circle class="g" cx="486.4" cy="374.8" r="3.74"/>
<circle class="r" cx="554.6" cy="432.9" r="4.37"/>
<circle class="g" cx="646.5" cy="229.9" r="4.04"/>
<circle class="f" cx="906.7" cy="705.8" r="3.87"/>
<circle class="g" cx="762.2" cy="250.0" r="3.70"/>
<circle class="g" cx="590.5" cy="334.0" r="4.10"/>
</g>
<g id="txt">
<text class="tk" text-anchor="middle" x="172.7" y="1156.4">-400</text>
<text class="tk" text-anchor="middle" x="475.9" y="1156.4">-200</text>
<text class="tk" text-anchor="middle" x="779.0" y="1156.4">0</text>
<text class="tk" text-anchor="middle" x="1082.2" y="1156.4">200</text>
<text class="tk" text-anchor="end" x="76.5" y="52.9">100</text>
<text class="tk" text-anchor="end" x="76.5" y="327.2">0</text>
<text class="tk" text-anchor="end" x="76.5" y="601.5">-100</text>
<text class="tk" text-anchor="end" x="76.5" y="875.8">-200</text>
<text class="ti" text-anchor="middle" x="638.6" y="1183">Factor 1, inertia explained = 41.9 %</text>
<text class="ti" text-anchor="middle" transform="translate(29.3 556) rotate(-90)">Factor 2, inertia explained = 20.4 %</text>
<text class="lb" x="1022.8" y="39.8">Zürich</text>
<text class="lb" x="1076.5" y="44.2">Bern</text>
<text class="lb" x="1014" y="111.3">Basel</text>
<text class="lb" x="1008.5" y="229.8">Biel/Bienne</text>
<text class="lb" x="903.8" y="83.4">Winterthur</text>
<text class="lb" x="907" y="100.4">Köniz</text>
<text class="lb" x="859" y="105.3">St. Gallen</text>
<text class="lb" x="907.9" y="128.8">Luzern</text>
<text class="lb" x="784.4" y="139.1">Thun</text>
<text class="lb" x="810.6" y="199.1">Schaffhausen</text>
<text class="lb" x="825.3" y="442.4">Lugano</text>
<text class="lb" x="1123" y="523">Genève</text>
<text class="lb" x="1140" y="560.6">Lausanne</text>
<text class="lb" x="1044.3" y="574.4">Neuchâtel</text>
<text class="ti" x="1224.4" y="362.7">Language</text>
<circle cx="1243.7" cy="397.9" r="5" fill="#66C2A5"/>
<text class="ll" x="1273.9" y="404.4">German</text>
<circle cx="1243.7" cy="434.9" r="5" fill="#FC8D62"/>
<text class="ll" x="1273.9" y="441.4">French</text>
<circle cx="1243.7" cy="472.0" r="5" fill="#8DA0CB"/>
<text class="ll" x="1273.9" y="478.5">Italian</text>
<circle cx="1243.7" cy="508.8" r="5" fill="#E78AC3"/>
<text class="ll" x="1273.9" y="515.3">Romansh</text>
<text class="ti" x="1224.8" y="590.7">Reg. weight <tspan font-style="italic">f</tspan></text>
<circle cx="1247.4" cy="626.3" r="11.1" fill="#000"/>
<text class="ll" x="1281.5" y="632.8">0.01</text>
<circle cx="1247.4" cy="663.5" r="14" fill="#000"/>
<text class="ll" x="1281.5" y="670.0">0.02</text>
<circle cx="1247.4" cy="701.5" r="16.3" fill="#000"/>
<text class="ll" x="1281.5" y="708.0">0.03</text>
<circle cx="1247.4" cy="743.7" r="18" fill="#000"/>
<text class="ll" x="1281.5" y="750.2">0.04</text>
</g></svg></body></html>
